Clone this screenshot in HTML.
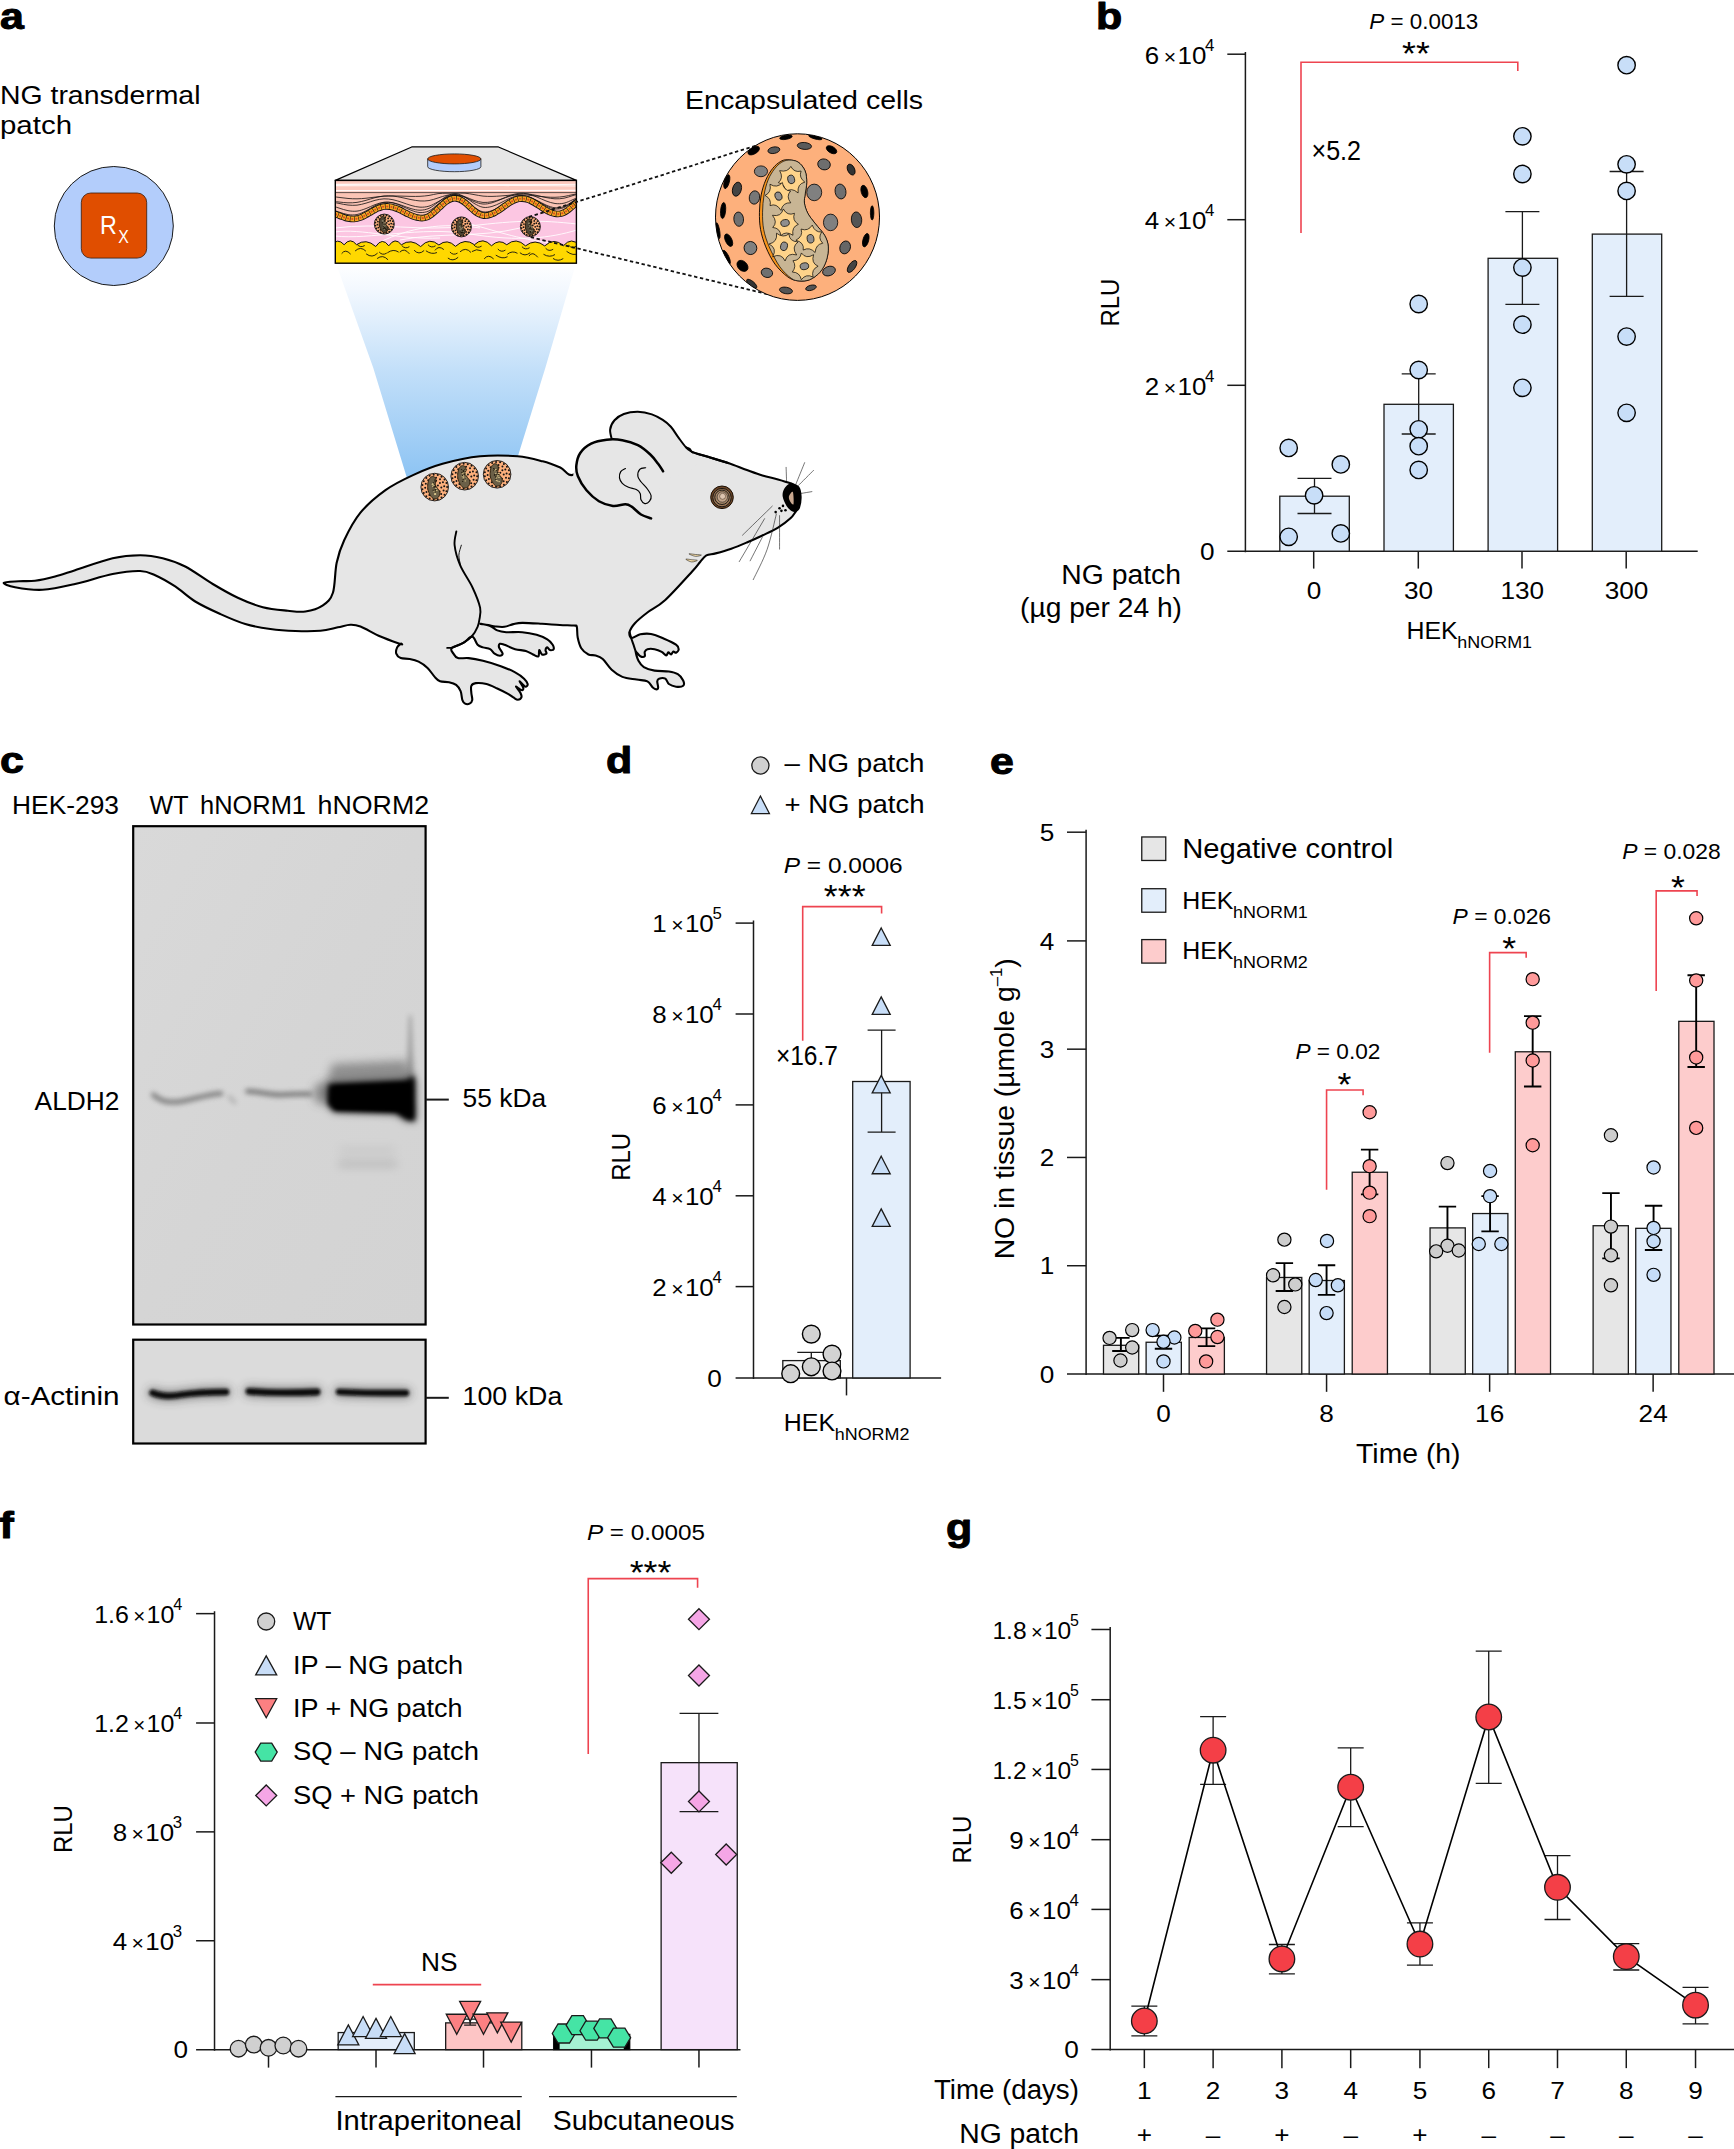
<!DOCTYPE html>
<html lang="en">
<head>
<meta charset="utf-8">
<title>Figure</title>
<style>
html,body{margin:0;padding:0;background:#fff;}
body{width:1734px;height:2149px;overflow:hidden;}
svg{display:block;font-family:"Liberation Sans",sans-serif;fill:#000;}
</style>
</head>
<body>
<svg width="1734" height="2149" viewBox="0 0 1734 2149">
<defs>
<linearGradient id="beam" x1="0" y1="263" x2="0" y2="480" gradientUnits="userSpaceOnUse"><stop offset="0" stop-color="#ffffff"/><stop offset="0.12" stop-color="#f3f8fe"/><stop offset="0.5" stop-color="#c2dff9"/><stop offset="1" stop-color="#8cc3f3"/></linearGradient>
<clipPath id="skinclip"><rect x="335.3" y="180.4" width="241.1" height="82.8"/></clipPath>
<clipPath id="sphclip"><ellipse cx="0" cy="0" rx="82" ry="83.3"/></clipPath>
<g id="capsule">
<ellipse cx="0" cy="0" rx="82" ry="83.3" fill="#fdb07c"/>
<g clip-path="url(#sphclip)" stroke="#000" stroke-width="0.8">
<ellipse cx="-11.53" cy="-79.82" rx="6.34" ry="2.08" fill="#000" transform="rotate(-10 -11.53 -79.82)"/>
<ellipse cx="17.88" cy="-79.82" rx="6.92" ry="1.73" fill="#000" transform="rotate(15 17.88 -79.82)"/>
<ellipse cx="-43.83" cy="-66.55" rx="6.34" ry="3.46" fill="#000" transform="rotate(-30 -43.83 -66.55)"/>
<ellipse cx="-23.64" cy="-66.9" rx="6" ry="3.23" fill="#5a5a5a" transform="rotate(-10 -23.64 -66.9)"/>
<ellipse cx="6.92" cy="-71.16" rx="7.15" ry="3.46" fill="#5a5a5a" transform="rotate(5 6.92 -71.16)"/>
<ellipse cx="34.03" cy="-67.36" rx="5.77" ry="3.23" fill="#000" transform="rotate(30 34.03 -67.36)"/>
<ellipse cx="53.63" cy="-47.52" rx="3.46" ry="5.77" fill="#333" transform="rotate(-25 53.63 -47.52)"/>
<ellipse cx="26.53" cy="-52.71" rx="6.34" ry="5.42" fill="#6e6e6e" transform="rotate(15 26.53 -52.71)"/>
<ellipse cx="-36.56" cy="-45.79" rx="6.57" ry="5.42" fill="#808080" transform="rotate(0 -36.56 -45.79)"/>
<ellipse cx="-70.7" cy="-35.41" rx="2.54" ry="7.15" fill="#000" transform="rotate(15 -70.7 -35.41)"/>
<ellipse cx="-60.55" cy="-27.91" rx="4.38" ry="7.15" fill="#444" transform="rotate(15 -60.55 -27.91)"/>
<ellipse cx="-43.02" cy="-19.61" rx="5.19" ry="6.69" fill="#777" transform="rotate(10 -43.02 -19.61)"/>
<ellipse cx="16.72" cy="-24.68" rx="7.5" ry="8.3" fill="#808080" transform="rotate(0 16.72 -24.68)"/>
<ellipse cx="43.02" cy="-25.61" rx="5.42" ry="7.5" fill="#707070" transform="rotate(-10 43.02 -25.61)"/>
<ellipse cx="66.9" cy="-25.61" rx="3.23" ry="6.34" fill="#000" transform="rotate(-15 66.9 -25.61)"/>
<ellipse cx="-74.39" cy="-6.57" rx="2.54" ry="8.07" fill="#000" transform="rotate(5 -74.39 -6.57)"/>
<ellipse cx="-58.82" cy="2.08" rx="4.84" ry="7.15" fill="#707070" transform="rotate(-5 -58.82 2.08)"/>
<ellipse cx="33.1" cy="5.31" rx="7.15" ry="8.3" fill="#808080" transform="rotate(0 33.1 5.31)"/>
<ellipse cx="59.05" cy="2.65" rx="5.19" ry="7.84" fill="#555" transform="rotate(-5 59.05 2.65)"/>
<ellipse cx="74.63" cy="-4.27" rx="1.73" ry="7.15" fill="#000" transform="rotate(0 74.63 -4.27)"/>
<ellipse cx="-79.58" cy="13.61" rx="1.73" ry="8.07" fill="#000" transform="rotate(-10 -79.58 13.61)"/>
<ellipse cx="-68.86" cy="23.07" rx="3.23" ry="6.69" fill="#000" transform="rotate(-25 -68.86 23.07)"/>
<ellipse cx="-47.06" cy="30.91" rx="6.34" ry="6.57" fill="#808080" transform="rotate(-20 -47.06 30.91)"/>
<ellipse cx="47.64" cy="30.33" rx="5.19" ry="6.57" fill="#666" transform="rotate(20 47.64 30.33)"/>
<ellipse cx="68.28" cy="23.07" rx="2.88" ry="6.92" fill="#000" transform="rotate(15 68.28 23.07)"/>
<ellipse cx="-70.93" cy="40.14" rx="2.31" ry="7.5" fill="#000" transform="rotate(-25 -70.93 40.14)"/>
<ellipse cx="-55.02" cy="48.79" rx="4.61" ry="6.34" fill="#000" transform="rotate(-45 -55.02 48.79)"/>
<ellipse cx="-30.57" cy="55.71" rx="5.77" ry="4.61" fill="#707070" transform="rotate(15 -30.57 55.71)"/>
<ellipse cx="31.49" cy="53.98" rx="6.57" ry="4.61" fill="#707070" transform="rotate(-20 31.49 53.98)"/>
<ellipse cx="54.56" cy="49.37" rx="3.23" ry="6.92" fill="#444" transform="rotate(35 54.56 49.37)"/>
<ellipse cx="-45.79" cy="66.67" rx="6.34" ry="2.54" fill="#333" transform="rotate(40 -45.79 66.67)"/>
<ellipse cx="-11.53" cy="73.36" rx="6.57" ry="3.23" fill="#555" transform="rotate(10 -11.53 73.36)"/>
<ellipse cx="13.49" cy="70.7" rx="5.42" ry="2.54" fill="#555" transform="rotate(-15 13.49 70.7)"/>
</g>
<ellipse cx="0" cy="0" rx="82" ry="83.3" fill="none" stroke="#000" stroke-width="1"/>
<path d="M-10.38 -57.32C-7.4 -57.27 -2.4 -56.84 0.58 -55.02C3.56 -53.19 6.06 -49.73 7.5 -46.37C8.94 -43 9.19 -38.68 9.23 -34.83C9.27 -30.99 8.11 -26.76 7.73 -23.3C7.34 -19.84 6.48 -17.34 6.92 -14.07C7.36 -10.8 8.55 -7.15 10.38 -3.69C12.21 -0.23 15.09 3.04 17.88 6.69C20.67 10.34 24.95 14.38 27.1 18.22C29.26 22.07 30.51 25.53 30.8 29.76C31.08 33.99 30.22 39.37 28.84 43.6C27.45 47.83 25.28 51.96 22.49 55.13C19.7 58.3 15.76 61.19 12.11 62.63C8.46 64.07 4.23 64.26 0.58 63.78C-3.08 63.3 -5.96 62.53 -9.8 59.75C-13.65 56.96 -18.84 52.06 -22.49 47.06C-26.14 42.06 -29.32 35.52 -31.72 29.76C-34.12 23.99 -35.85 18.22 -36.91 12.46C-37.97 6.69 -38.16 0.92 -38.06 -4.84C-37.97 -10.61 -37.39 -16.76 -36.33 -22.15C-35.27 -27.53 -33.64 -32.72 -31.72 -37.14C-29.8 -41.56 -27.2 -45.64 -24.8 -48.67C-22.4 -51.71 -19.7 -53.92 -17.3 -55.36C-14.9 -56.81 -13.36 -57.38 -10.38 -57.32Z" fill="#f7941d" stroke="#000" stroke-width="0.9"/>
<path d="M-8.65 -56.98C-5.86 -57.04 -2.11 -56.79 0.58 -55.02C3.27 -53.25 6.06 -49.73 7.5 -46.37C8.94 -43 9.19 -38.68 9.23 -34.83C9.27 -30.99 8.11 -26.76 7.73 -23.3C7.34 -19.84 6.48 -17.34 6.92 -14.07C7.36 -10.8 8.55 -7.15 10.38 -3.69C12.21 -0.23 15.09 3.04 17.88 6.69C20.67 10.34 24.95 14.38 27.1 18.22C29.26 22.07 30.51 25.53 30.8 29.76C31.08 33.99 30.22 39.37 28.84 43.6C27.45 47.83 25.28 51.96 22.49 55.13C19.7 58.3 15.57 61.19 12.11 62.63C8.65 64.07 4.81 64.03 1.73 63.78C-1.35 63.53 -3.08 63.53 -6.34 61.13C-9.61 58.73 -14.23 54.59 -17.88 49.37C-21.53 44.14 -25.61 35.91 -28.26 29.76C-30.91 23.61 -32.68 18.22 -33.79 12.46C-34.91 6.69 -35.01 0.92 -34.95 -4.84C-34.89 -10.61 -34.37 -16.76 -33.45 -22.15C-32.53 -27.53 -31.14 -32.81 -29.41 -37.14C-27.68 -41.46 -25.28 -45.17 -23.07 -48.1C-20.86 -51.02 -18.55 -53.19 -16.15 -54.67C-13.74 -56.15 -11.44 -56.92 -8.65 -56.98Z" fill="#c8b594" stroke="#000" stroke-width="0.7"/>
<path d="M7.32 -34.95Q-0.44 -33.24 0.6 -24.14Q-6.17 -30.41 -12.15 -24.87Q-12.04 -32.94 -19.14 -34.46Q-13.56 -39.18 -17.85 -46.44Q-9.83 -44.53 -6.66 -50.67Q-3.4 -44.23 3.58 -46.03Q1.09 -39.6 7.32 -34.95Z" fill="#fed38a" stroke="#000" stroke-width="0.7" stroke-linejoin="round"/>
<ellipse cx="-6.34" cy="-37.72" rx="3.4" ry="4.3" fill="#8e8e8e" stroke="#000" stroke-width="0.7" transform="rotate(-15 -6.34 -37.72)"/>
<path d="M-6.74 -14.28Q-14.65 -14.89 -16.53 -6.67Q-20.93 -14.28 -27.46 -11.46Q-25.69 -18.2 -32.47 -21.68Q-25.76 -24.67 -27.54 -32.86Q-20.32 -28.33 -15.16 -34.69Q-14.05 -26.62 -6.96 -26.06Q-11.75 -20.62 -6.74 -14.28Z" fill="#fed38a" stroke="#000" stroke-width="0.7" stroke-linejoin="round"/>
<ellipse cx="-19.03" cy="-20.99" rx="3.4" ry="4.3" fill="#8e8e8e" stroke="#000" stroke-width="0.7" transform="rotate(-20 -19.03 -20.99)"/>
<path d="M0.89 7.22Q-6.02 9.82 -4.55 18.14Q-11.5 13.53 -16.67 18.4Q-17.39 10.94 -24.77 10.36Q-19.49 5.18 -25.02 -1.8Q-16.23 0.03 -14.21 -8.17Q-10.21 -0.8 -3.02 -3.79Q-5.62 3.4 0.89 7.22Z" fill="#fed38a" stroke="#000" stroke-width="0.7" stroke-linejoin="round"/>
<ellipse cx="-12.46" cy="5.88" rx="3.4" ry="4.3" fill="#8e8e8e" stroke="#000" stroke-width="0.7" transform="rotate(80 -12.46 5.88)"/>
<path d="M25.24 26.14Q18.31 27.1 17.64 35.43Q12.06 29.43 5.73 32.97Q6.98 25.38 -1.62 23.14Q5.98 19.11 3.59 11.99Q10.64 14.54 14.76 8Q17.18 15.27 24.15 14.9Q20.06 20.99 25.24 26.14Z" fill="#fed38a" stroke="#000" stroke-width="0.7" stroke-linejoin="round"/>
<ellipse cx="13.03" cy="21.68" rx="3.4" ry="4.3" fill="#8e8e8e" stroke="#000" stroke-width="0.7" transform="rotate(-10 13.03 21.68)"/>
<path d="M-0.82 37.85Q-10.08 35.11 -12.42 43.87Q-16.06 35.69 -24.81 39.65Q-20.04 31.19 -28.45 26.9Q-19.71 24.93 -21.01 16.12Q-14.07 21.34 -8.59 16.75Q-8.22 24.31 0.51 24.89Q-6.45 30.25 -0.82 37.85Z" fill="#fed38a" stroke="#000" stroke-width="0.7" stroke-linejoin="round"/>
<ellipse cx="-13.49" cy="29.18" rx="3.4" ry="4.3" fill="#8e8e8e" stroke="#000" stroke-width="0.7" transform="rotate(15 -13.49 29.18)"/>
<path d="M20.61 49.13Q13.52 52.31 15.55 59.96Q8.54 56.25 3.84 62.61Q2.24 55.01 -5.16 54.95Q-0.57 49.13 -4.54 43.61Q2.47 43.55 3.89 35.86Q8.47 42.33 16.12 37.6Q13.36 46.03 20.61 49.13Z" fill="#fed38a" stroke="#000" stroke-width="0.7" stroke-linejoin="round"/>
<ellipse cx="6.92" cy="49.13" rx="3.4" ry="4.3" fill="#8e8e8e" stroke="#000" stroke-width="0.7" transform="rotate(80 6.92 49.13)"/>
</g>
<filter id="bl1" filterUnits="userSpaceOnUse" x="120" y="800" width="330" height="660"><feGaussianBlur stdDeviation="1.6"/></filter>
<filter id="bl2" filterUnits="userSpaceOnUse" x="120" y="800" width="330" height="660"><feGaussianBlur stdDeviation="2.6"/></filter>
<filter id="bl4" filterUnits="userSpaceOnUse" x="120" y="800" width="330" height="660"><feGaussianBlur stdDeviation="5"/></filter>
<linearGradient id="blotg" x1="0" y1="0" x2="1" y2="1"><stop offset="0" stop-color="#d9d9d9"/><stop offset="0.5" stop-color="#d5d5d5"/><stop offset="1" stop-color="#d3d3d3"/></linearGradient>
<clipPath id="clipc1"><rect x="133.2" y="826.2" width="292.4" height="498.3"/></clipPath>
<clipPath id="clipc2"><rect x="133.2" y="1339.7" width="292.4" height="103.8"/></clipPath>
</defs>
<g id="panel-a">
<text transform="translate(0 29.3) scale(1.16 1)" font-size="37" font-weight="bold" fill="#000" stroke="#000" stroke-width="1" stroke-linejoin="round">a</text>
<text font-size="26.5" textLength="190.95" lengthAdjust="spacingAndGlyphs" transform="translate(0 104) scale(1.05 1)">NG transdermal</text>
<text font-size="26.5" textLength="68.57" lengthAdjust="spacingAndGlyphs" transform="translate(0 134.4) scale(1.05 1)">patch</text>
<text font-size="26.5" textLength="226.67" lengthAdjust="spacingAndGlyphs" transform="translate(685 109) scale(1.05 1)">Encapsulated cells</text>
<circle cx="113.8" cy="226" r="59.5" fill="#b3cdfb" stroke="#1a1a1a" stroke-width="1"/>
<rect x="81.3" y="193" width="65.4" height="65.1" rx="9.5" fill="#e04e00" stroke="#3a1a0a" stroke-width="0.8"/>
<text font-size="26.5" fill="#fff" transform="translate(100 233.6) scale(0.88 1)">R<tspan dy="9.2" dx="1.5" font-size="18">X</tspan></text>
<polygon points="336,263.5 576,263.5 545.3,368 513,472 410,488 373.3,368" fill="url(#beam)"/>
<path d="M3.75 582.73C4.38 581.73 13.56 581.56 18.77 581.23C23.99 580.89 28.99 581.52 35.04 580.73C41.09 579.93 48.39 578.22 55.07 576.47C61.74 574.72 65.5 573.26 75.09 570.21C84.69 567.17 101.79 560.7 112.64 558.2C123.49 555.69 131.83 555.19 140.18 555.19C148.52 555.19 155.19 556.32 162.7 558.2C170.21 560.08 176.89 562.16 185.23 566.46C193.58 570.76 204.01 578.77 212.77 583.98C221.53 589.19 229.45 593.87 237.8 597.75C246.14 601.63 254.48 605.09 262.83 607.26C271.17 609.43 280.77 610.05 287.86 610.76C294.95 611.47 299.54 612.43 305.38 611.51C311.22 610.6 318.31 608.39 322.9 605.26C327.49 602.13 330.62 599.83 332.92 592.74C335.21 585.65 334.79 571.46 336.67 562.7C338.55 553.94 340.22 548.52 344.18 540.18C348.14 531.83 353.57 520.98 360.45 512.64C367.33 504.3 376.72 496.37 385.48 490.11C394.24 483.85 403.5 479.47 413.02 475.09C422.53 470.71 431.39 466.96 442.58 463.83C453.76 460.7 467.61 457.57 480.13 456.32C492.64 455.07 507.24 455.49 517.67 456.32C528.1 457.15 535.61 459.45 542.7 461.33C549.8 463.2 555.01 465.37 560.23 467.58C565.44 469.8 567.36 477.19 573.99 474.59C580.62 472 587.33 457.77 600 452C612.67 446.23 635.65 440.75 650 440C664.35 439.25 679.07 445.47 686.13 447.49C693.19 449.52 688.72 450.61 692.36 452.16C695.99 453.72 701.96 455.02 707.93 456.84C713.9 458.65 721.68 460.86 728.17 463.06C734.66 465.27 741.15 468 746.86 470.07C752.57 472.15 757.24 473.96 762.43 475.52C767.62 477.08 773.33 478.12 778 479.41C782.67 480.71 787.08 482.01 790.46 483.31C793.83 484.61 796.56 484.99 798.24 487.2C799.93 489.41 800.45 493.17 800.58 496.54C800.71 499.92 799.8 504.98 799.02 507.44C798.24 509.91 797.34 509.52 795.91 511.34C794.48 513.15 793.44 515.62 790.46 518.34C787.47 521.07 782.67 524.83 778 527.69C773.33 530.54 767.62 533.01 762.43 535.47C757.24 537.94 752.05 540.27 746.86 542.48C741.67 544.68 736.48 546.89 731.29 548.71C726.1 550.52 719.87 552.26 715.71 553.38C711.56 554.49 708.97 553.98 706.37 555.4C703.78 556.83 702.48 559.3 700.14 561.94C697.81 564.59 698.17 564.94 692.36 571.29C686.55 577.63 672.78 593.13 665.29 600C657.81 606.87 652.48 608.64 647.42 612.51C642.35 616.39 637.88 619.96 634.91 623.24C631.93 626.52 630.08 629.73 629.54 632.18C629.01 634.62 629.9 637.54 631.69 637.9C633.48 638.26 637.05 634.98 640.27 634.32C643.49 633.67 647.12 633.28 650.99 633.96C654.87 634.65 659.34 636.65 663.51 638.43C667.68 640.22 673.49 642.9 676.02 644.69C678.55 646.48 678.7 647.82 678.7 649.16C678.7 650.5 676.91 652.35 676.02 652.74C675.13 653.12 674.17 651.19 673.34 651.48C672.51 651.78 671.85 654.37 671.02 654.52C670.18 654.67 669.14 652.23 668.33 652.38C667.53 652.53 667.29 655.51 666.19 655.42C665.09 655.33 663.66 652.88 661.72 651.84C659.78 650.8 656.95 649.61 654.57 649.16C652.19 648.71 649.06 648.71 647.42 649.16C645.78 649.61 645.18 650.65 644.74 651.84C644.29 653.03 645.48 655.57 644.74 656.31C643.99 657.06 641.76 657.06 640.27 656.31C638.78 655.57 636.1 651.1 635.8 651.84C635.5 652.59 637.14 658.25 638.48 660.78C639.82 663.31 641.16 665.4 643.84 667.04C646.52 668.67 650.4 669.87 654.57 670.61C658.74 671.36 665 670.91 668.87 671.51C672.74 672.1 675.42 672.7 677.81 674.19C680.19 675.68 682.28 678.51 683.17 680.44C684.07 682.38 684.36 684.76 683.17 685.81C681.98 686.85 678.4 687 676.02 686.7C673.64 686.4 670.66 685.36 668.87 684.02C667.08 682.68 666.93 679.55 665.29 678.66C663.66 677.76 660.38 678.21 659.04 678.66C657.7 679.1 657.4 679.85 657.25 681.34C657.1 682.83 658.29 686.25 658.14 687.59C658 688.93 657.25 689.38 656.36 689.38C655.46 689.38 654.27 688.93 652.78 687.59C651.29 686.25 650.1 682.68 647.42 681.34C644.74 680 640.86 680.29 636.69 679.55C632.52 678.8 626.56 678.51 622.39 676.87C618.22 675.23 614.94 672.7 611.67 669.72C608.39 666.74 605.41 661.38 602.73 658.99C600.05 656.61 597.96 656.16 595.58 655.42C593.19 654.67 590.81 655.71 588.43 654.52C586.04 653.33 583.06 651.1 581.28 648.27C579.49 645.44 578.45 641.12 577.7 637.54C576.96 633.96 577.4 628.81 576.81 626.81C576.21 624.82 576.96 625.86 574.13 625.56C571.3 625.27 565.19 625.32 559.82 625.03C554.46 624.73 548.21 624.13 541.95 623.78C535.69 623.42 527.05 622.82 522.28 622.88C517.52 622.94 516.33 623.48 513.35 624.13C510.37 624.79 507.39 626.43 504.41 626.81C501.43 627.2 498.15 626.75 495.47 626.46C492.79 626.16 490.85 625.47 488.32 625.03C485.79 624.58 479.98 623.63 480.28 623.78C480.57 623.92 487.28 624.82 490.11 625.92C492.94 627.02 494.58 629.35 497.26 630.39C499.94 631.43 502.02 631.88 506.2 632.18C510.37 632.48 517.22 631.73 522.28 632.18C527.35 632.62 532.41 633.67 536.59 634.86C540.76 636.05 544.63 637.69 547.31 639.33C549.99 640.97 551.63 643.05 552.67 644.69C553.72 646.33 554.02 648.27 553.57 649.16C553.12 650.05 551.04 650.35 549.99 650.05C548.95 649.76 548.06 647.37 547.31 647.37C546.57 647.37 545.67 649.01 545.52 650.05C545.37 651.1 547.01 652.88 546.42 653.63C545.82 654.37 543.14 655.12 541.95 654.52C540.76 653.93 539.86 649.76 539.27 650.05C538.67 650.35 539.42 655.57 538.37 656.31C537.33 657.06 535.1 655.42 533.01 654.52C530.92 653.63 528.84 651.84 525.86 650.95C522.88 650.05 518.71 650.2 515.13 649.16C511.56 648.12 506.94 645.58 504.41 644.69C501.88 643.8 500.83 643.35 499.94 643.8C499.05 644.24 498.6 645.73 499.05 647.37C499.49 649.01 502.47 652.23 502.62 653.63C502.77 655.03 501.28 655.77 499.94 655.77C498.6 655.77 496.21 654.73 494.58 653.63C492.94 652.53 492.04 650.2 490.11 649.16C488.17 648.12 485.04 648.12 482.96 647.37C480.87 646.63 479.38 646.48 477.59 644.69C475.81 642.9 474.61 636.94 472.23 636.65C469.85 636.35 466.72 640.97 463.29 642.9C459.87 644.84 453.31 646.48 451.67 648.27C450.03 650.05 452.42 651.99 453.46 653.63C454.5 655.27 455.4 657.35 457.93 658.1C460.46 658.84 464.48 657.65 468.66 658.1C472.83 658.54 477.59 659.44 482.96 660.78C488.32 662.12 495.47 664.21 500.83 666.14C506.2 668.08 511.26 670.31 515.13 672.4C519.01 674.48 521.99 676.72 524.07 678.66C526.16 680.59 527.35 682.68 527.65 684.02C527.95 685.36 526.6 686.55 525.86 686.7C525.12 686.85 524.22 685.81 523.18 684.91C522.14 684.02 519.6 680.89 519.6 681.34C519.6 681.78 522.73 686.1 523.18 687.59C523.63 689.08 523.03 690.13 522.28 690.28C521.54 690.42 519.75 689.08 518.71 688.49C517.67 687.89 515.73 685.96 516.03 686.7C516.33 687.44 519.6 691.17 520.5 692.96C521.39 694.74 521.84 696.29 521.39 697.43C520.94 698.56 519.16 699.75 517.82 699.75C516.47 699.75 514.99 698.41 513.35 697.43C511.71 696.44 510.66 695.34 507.98 693.85C505.3 692.36 500.83 690.13 497.26 688.49C493.68 686.85 490.11 684.91 486.53 684.02C482.96 683.12 478.34 682.83 475.81 683.12C473.27 683.42 472.08 684.17 471.34 685.81C470.59 687.44 471.19 690.57 471.34 692.96C471.49 695.34 472.53 698.32 472.23 700.11C471.93 701.89 470.74 703.09 469.55 703.68C468.36 704.28 466.27 704.28 465.08 703.68C463.89 703.09 463.14 702.19 462.4 700.11C461.65 698.02 461.65 693.7 460.61 691.17C459.57 688.64 458.08 686.4 456.14 684.91C454.21 683.42 451.67 682.83 448.99 682.23C446.31 681.64 442.44 682.23 440.05 681.34C437.67 680.44 436.78 679.1 434.69 676.87C432.61 674.63 430.22 670.46 427.54 667.93C424.86 665.4 421.58 663.16 418.6 661.67C415.62 660.18 412.64 659.59 409.66 658.99C406.68 658.4 402.96 658.99 400.73 658.1C398.49 657.2 396.85 655.42 396.26 653.63C395.66 651.84 396.41 649.01 397.15 647.37C397.9 645.73 400.17 644.35 400.73 643.8C401.28 643.24 403.88 645.26 400.5 644.06C397.13 642.85 387.15 639.47 380.48 636.55C373.8 633.63 365.46 628.49 360.45 626.53C355.44 624.57 354.19 624.66 350.44 624.78C346.68 624.91 342.93 626.28 337.92 627.28C332.92 628.29 327.49 630.16 320.4 630.79C313.31 631.41 303.71 631.33 295.37 631.04C287.03 630.75 278.68 630.2 270.34 629.04C261.99 627.87 253.65 626.53 245.31 624.03C236.96 621.53 228.62 617.77 220.28 614.02C211.93 610.26 202.75 606.09 195.24 601.5C187.73 596.91 181.89 590.86 175.22 586.48C168.54 582.1 161.03 577.81 155.19 575.22C149.35 572.63 147.27 571.17 140.18 570.96C133.08 570.76 123.49 571.8 112.64 573.97C101.79 576.14 86.78 581.35 75.09 583.98C63.41 586.61 52.57 589.19 42.55 589.74C32.54 590.28 21.49 588.4 15.02 587.23C8.55 586.07 3.13 583.73 3.75 582.73Z" fill="#e6e6e6" stroke="#000" stroke-width="2.1" stroke-linejoin="round"/>
<path d="M612.16 440.8C611.7 437.94 609.75 433.01 610.14 429.59C610.53 426.16 612.22 422.84 614.5 420.24C616.78 417.65 619.95 415.42 623.84 414.01C627.74 412.61 633.19 411.78 637.86 411.83C642.53 411.89 647.72 412.98 651.87 414.33C656.02 415.68 659.61 417.86 662.77 419.93C665.94 422.01 668.27 423.88 670.87 426.78C673.46 429.69 675.8 433.92 678.34 437.37C680.89 440.82 683.79 445.03 686.13 447.49C688.46 449.96 690.02 450.22 692.36 452.16C694.69 454.11 701.44 455.67 700.14 459.17C698.85 462.68 692.36 470.07 684.57 473.19C676.79 476.3 663.81 479.15 653.43 477.86C643.05 476.56 629.03 470.59 622.29 465.4C615.54 460.21 614.63 450.81 612.94 446.71C611.26 442.61 612.63 443.65 612.16 440.8Z" fill="#e6e6e6" stroke="none"/>
<path d="M612.16 440.8C611.83 438.93 609.75 433.01 610.14 429.59C610.53 426.16 612.22 422.84 614.5 420.24C616.78 417.65 619.95 415.42 623.84 414.01C627.74 412.61 633.19 411.78 637.86 411.83C642.53 411.89 647.72 412.98 651.87 414.33C656.02 415.68 659.61 417.86 662.77 419.93C665.94 422.01 668.27 423.88 670.87 426.78C673.46 429.69 675.8 433.92 678.34 437.37C680.89 440.82 683.79 445.03 686.13 447.49C688.46 449.96 691.32 451.39 692.36 452.16" fill="none" stroke="#000" stroke-width="2" stroke-linecap="round"/>
<path d="M692.36 452.16C694.95 452.94 701.96 455.02 707.93 456.84C713.9 458.65 724.8 462.03 728.17 463.06" fill="none" stroke="#000" stroke-width="2.1" stroke-linecap="round"/>
<path d="M573.24 475.99C572.98 473.39 575.18 469.24 576.35 465.4C577.52 461.56 577.78 456.58 580.24 452.94C582.71 449.31 586.73 445.81 591.14 443.6C595.55 441.39 601.52 440.28 606.71 439.71C611.9 439.14 617.1 439.27 622.29 440.17C627.48 441.08 633.19 442.77 637.86 445.16C642.53 447.54 646.94 451.39 650.31 454.5C653.69 457.61 656.15 461.38 658.1 463.84C660.05 466.31 661.73 465.4 661.99 469.29C662.25 473.19 662.12 480.58 659.66 487.2C657.19 493.82 652.91 506.15 647.2 509C641.49 511.86 631.11 504.85 625.4 504.33C619.69 503.81 617.35 506.41 612.94 505.89C608.53 505.37 603.34 503.81 598.93 501.21C594.52 498.62 589.98 493.69 586.47 490.31C582.97 486.94 580.11 483.36 577.91 480.97C575.7 478.58 573.5 478.58 573.24 475.99Z" fill="#e6e6e6" stroke="none"/>
<path d="M651.09 518.34C649.41 517.69 644.22 516.4 640.97 514.45C637.73 512.5 634.22 508.35 631.63 506.66C629.03 504.98 628.51 504.46 625.4 504.33C622.29 504.2 617.35 506.41 612.94 505.89C608.53 505.37 603.34 503.81 598.93 501.21C594.52 498.62 589.98 494.47 586.47 490.31C582.97 486.16 579.59 480.45 577.91 476.3C576.22 472.15 575.96 469.29 576.35 465.4C576.74 461.51 577.78 456.58 580.24 452.94C582.71 449.31 586.73 445.81 591.14 443.6C595.55 441.39 601.52 440.28 606.71 439.71C611.9 439.14 617.1 439.27 622.29 440.17C627.48 441.08 633.19 442.77 637.86 445.16C642.53 447.54 646.94 451.39 650.31 454.5C653.69 457.61 655.97 461.04 658.1 463.84C660.23 466.65 662.25 470.07 663.08 471.32" fill="none" stroke="#000" stroke-width="2.5" stroke-linecap="round"/>
<path d="M625.4 468.51C624.62 469.03 621.71 470.07 620.73 471.63C619.74 473.19 619.22 475.91 619.48 477.86C619.74 479.8 620.78 481.75 622.29 483.31C623.79 484.86 626.18 486.16 628.51 487.2C630.85 488.24 634.35 488.5 636.3 489.54C638.25 490.57 639.41 491.74 640.19 493.43C640.97 495.12 640.19 497.97 640.97 499.66C641.75 501.34 643.44 503.29 644.86 503.55C646.29 503.81 648.5 502.51 649.54 501.21C650.57 499.92 651.48 497.84 651.09 495.76C650.7 493.69 648.89 491.09 647.2 488.76C645.51 486.42 642.53 483.83 640.97 481.75C639.41 479.67 638.06 478.38 637.86 476.3C637.65 474.22 638.43 470.72 639.73 469.29C641.02 467.87 644.66 468 645.64 467.74" fill="none" stroke="#000" stroke-width="1.2" stroke-linecap="round"/>
<path d="M456.35 531.41C456.05 533.71 453.97 539.55 454.59 545.18C455.22 550.81 457.1 558.11 460.1 565.21C463.1 572.3 469.28 580.64 472.62 587.73C475.95 594.83 479 602.44 480.13 607.76C481.25 613.08 479.8 616.49 479.38 619.66C478.96 622.84 478.79 624.13 477.59 626.81C476.4 629.5 474.61 633.07 472.23 635.75C469.85 638.43 466.57 640.97 463.29 642.9C460.02 644.84 455.25 646.54 452.57 647.37C449.89 648.21 448.1 647.82 447.2 647.91" fill="none" stroke="#000" stroke-width="1.9" stroke-linecap="round"/>
<path d="M461.35 545.18C460.93 546.85 458.97 551.86 458.85 555.19C458.72 558.53 460.31 563.54 460.6 565.21" fill="none" stroke="#000" stroke-width="0.9" stroke-linecap="round"/>
<path d="M629.54 632.18C629.84 633.22 630.67 636.35 631.33 638.43C631.99 640.52 632.73 642.46 633.48 644.69C634.22 646.93 635.41 650.65 635.8 651.84" fill="none" stroke="#000" stroke-width="2" stroke-linecap="round"/>
<path d="M688.93 553.85C688.93 553.53 693.4 554.26 695.47 554.47C697.55 554.68 701.39 554.78 701.39 555.09C701.39 555.4 697.55 556.55 695.47 556.34C693.4 556.13 688.93 554.16 688.93 553.85Z" fill="#f5dda8" stroke="#000" stroke-width="0.5"/>
<path d="M685.82 559.14C685.95 558.78 690.44 559.56 692.36 559.76C694.28 559.97 697.47 560.02 697.34 560.39C697.21 560.75 693.5 562.15 691.58 561.94C689.66 561.74 685.69 559.5 685.82 559.14Z" fill="#f5dda8" stroke="#000" stroke-width="0.5"/>
<path d="M790.46 483.31C792.53 482.79 795 483.96 796.69 485.64C798.37 487.33 800.06 490.31 800.58 493.43C801.1 496.54 800.58 501.34 799.8 504.33C799.02 507.31 797.21 510.17 795.91 511.34C794.61 512.5 793.57 512.24 792.01 511.34C790.46 510.43 788.12 508.35 786.56 505.89C785.01 503.42 783.06 499.4 782.67 496.54C782.28 493.69 782.93 490.96 784.23 488.76C785.53 486.55 788.38 483.83 790.46 483.31Z" fill="#000"/>
<path d="M792.79 491.87C792.01 490.63 789.29 494.86 788.9 496.54C788.51 498.23 789.68 500.75 790.46 501.99C791.24 503.24 793.18 505.7 793.57 504.02C793.96 502.33 793.57 493.12 792.79 491.87Z" fill="#c9a890"/>
<circle cx="722" cy="497.3" r="11.3" fill="#6b4526" stroke="#1a0f05" stroke-width="1"/>
<circle cx="722" cy="497.6" r="9.2" fill="#9a7554" stroke="#111" stroke-width="0.9"/>
<circle cx="722" cy="497.3" r="7.2" fill="#a88868" stroke="#111" stroke-width="0.9"/>
<circle cx="722.3" cy="497.0" r="5.2" fill="#c4a68c" stroke="#1a1a1a" stroke-width="0.6"/>
<circle cx="722.6" cy="496.3" r="3" fill="#dcc4b0" stroke="#3a2a1a" stroke-width="0.5"/>
<circle cx="775.66" cy="512.11" r="1.3" fill="#000"/>
<circle cx="779.56" cy="508.22" r="1.3" fill="#000"/>
<circle cx="782.98" cy="505.89" r="1.3" fill="#000"/>
<circle cx="781.43" cy="510.87" r="1.3" fill="#000"/>
<circle cx="785.47" cy="510.25" r="1.3" fill="#000"/>
<path d="M786.56 480.97C786.49 478.64 786.18 469.29 786.1 466.96M795.91 484.09C797.39 480.45 803.3 465.92 804.78 462.29M798.24 485.64C800.84 483.05 811.22 472.67 813.82 470.07M801.05 493.43C802.91 493.12 810.39 491.87 812.26 491.56M772.55 505.89C767.49 510.82 747.25 530.54 742.19 535.47M764.76 518.34C760.48 525.61 743.35 554.68 739.07 561.94M776.44 513.67C774.89 519.64 770.99 538.43 767.1 549.49C763.21 560.54 755.42 574.92 753.09 580.01M779.56 515.23C779.56 520.94 779.56 543.78 779.56 549.49M762.43 537.03C760.35 541.05 752.05 557.14 749.97 561.16" fill="none" stroke="#1a1a1a" stroke-width="0.6"/>
<g transform="translate(434.7 487.1)">
<circle r="13.8" fill="#fdb07c" stroke="#111" stroke-width="0.9"/>
<circle cx="12.42" cy="0" r="1" fill="#151515"/>
<circle cx="11.75" cy="4.03" r="1" fill="#151515"/>
<circle cx="9.8" cy="7.63" r="1" fill="#151515"/>
<circle cx="6.79" cy="10.4" r="1" fill="#151515"/>
<circle cx="3.05" cy="12.04" r="1" fill="#151515"/>
<circle cx="-1.03" cy="12.38" r="1" fill="#151515"/>
<circle cx="-4.99" cy="11.37" r="1" fill="#151515"/>
<circle cx="-8.41" cy="9.14" r="1" fill="#151515"/>
<circle cx="-10.92" cy="5.91" r="1" fill="#151515"/>
<circle cx="-12.25" cy="2.04" r="1" fill="#151515"/>
<circle cx="-12.25" cy="-2.04" r="1" fill="#151515"/>
<circle cx="-10.92" cy="-5.91" r="1" fill="#151515"/>
<circle cx="-8.41" cy="-9.14" r="1" fill="#151515"/>
<circle cx="-4.99" cy="-11.37" r="1" fill="#151515"/>
<circle cx="-1.03" cy="-12.38" r="1" fill="#151515"/>
<circle cx="3.05" cy="-12.04" r="1" fill="#151515"/>
<circle cx="6.79" cy="-10.4" r="1" fill="#151515"/>
<circle cx="9.8" cy="-7.63" r="1" fill="#151515"/>
<circle cx="11.75" cy="-4.03" r="1" fill="#151515"/>
<circle cx="8.88" cy="3.44" r="1" fill="#151515"/>
<circle cx="6.5" cy="6.95" r="1" fill="#151515"/>
<circle cx="2.84" cy="9.09" r="1" fill="#151515"/>
<circle cx="-1.38" cy="9.42" r="1" fill="#151515"/>
<circle cx="-5.33" cy="7.89" r="1" fill="#151515"/>
<circle cx="-8.23" cy="4.79" r="1" fill="#151515"/>
<circle cx="-9.49" cy="0.75" r="1" fill="#151515"/>
<circle cx="-8.88" cy="-3.44" r="1" fill="#151515"/>
<circle cx="-6.5" cy="-6.95" r="1" fill="#151515"/>
<circle cx="-2.84" cy="-9.09" r="1" fill="#151515"/>
<circle cx="1.38" cy="-9.42" r="1" fill="#151515"/>
<circle cx="5.33" cy="-7.89" r="1" fill="#151515"/>
<circle cx="8.23" cy="-4.79" r="1" fill="#151515"/>
<circle cx="9.49" cy="-0.75" r="1" fill="#151515"/>
<circle cx="4.89" cy="4.47" r="1" fill="#151515"/>
<circle cx="0.88" cy="6.57" r="1" fill="#151515"/>
<circle cx="-3.55" cy="5.59" r="1" fill="#151515"/>
<circle cx="-6.31" cy="2" r="1" fill="#151515"/>
<circle cx="-6.12" cy="-2.52" r="1" fill="#151515"/>
<circle cx="-3.07" cy="-5.87" r="1" fill="#151515"/>
<circle cx="1.42" cy="-6.47" r="1" fill="#151515"/>
<circle cx="5.25" cy="-4.04" r="1" fill="#151515"/>
<circle cx="6.62" cy="0.28" r="1" fill="#151515"/>
<circle cx="1.6" cy="3.21" r="1" fill="#151515"/>
<circle cx="-3.21" cy="1.6" r="1" fill="#151515"/>
<circle cx="-1.6" cy="-3.21" r="1" fill="#151515"/>
<circle cx="3.21" cy="-1.6" r="1" fill="#151515"/>
<path d="M-2.15 -10.55C-1.64 -10.56 -0.94 -10.51 -0.45 -10.18C0.05 -9.86 0.57 -9.21 0.84 -8.58C1.1 -7.96 1.15 -7.16 1.16 -6.45C1.16 -5.74 0.95 -4.95 0.88 -4.31C0.81 -3.67 0.65 -3.21 0.73 -2.6C0.81 -2 1.03 -1.32 1.37 -0.68C1.71 -0.04 2.24 0.56 2.76 1.24C3.27 1.91 4.07 2.66 4.47 3.37C4.86 4.09 5.1 4.73 5.15 5.51C5.2 6.29 5.04 7.29 4.79 8.07C4.53 8.85 4.13 9.62 3.61 10.21C3.1 10.79 2.33 11.33 1.69 11.59C1.05 11.86 0.34 11.85 -0.23 11.81C-0.8 11.76 -1.12 11.76 -1.73 11.32C-2.33 10.87 -3.19 10.11 -3.86 9.14C-4.54 8.17 -5.29 6.65 -5.78 5.51C-6.27 4.37 -6.6 3.37 -6.81 2.31C-7.01 1.24 -7.03 0.17 -7.02 -0.9C-7.01 -1.96 -6.91 -3.1 -6.74 -4.1C-6.57 -5.1 -6.32 -6.07 -6 -6.88C-5.68 -7.68 -5.23 -8.36 -4.82 -8.9C-4.41 -9.44 -3.99 -9.85 -3.54 -10.12C-3.1 -10.39 -2.67 -10.54 -2.15 -10.55Z" fill="#6b6048" stroke="#2a1c08" stroke-width="0.9"/>
<rect x="-1.38" y="-2.37" width="1.5" height="1" fill="#d9c58a"/>
<rect x="0.55" y="4.41" width="1.5" height="1" fill="#d9c58a"/>
<rect x="-0.53" y="6.89" width="1.5" height="1" fill="#d9c58a"/>
<rect x="-0.13" y="5.79" width="1.5" height="1" fill="#d9c58a"/>
<rect x="0.56" y="0.97" width="1.5" height="1" fill="#d9c58a"/>
<rect x="-1.29" y="3.65" width="1.5" height="1" fill="#d9c58a"/>
<rect x="-0.58" y="5.58" width="1.5" height="1" fill="#d9c58a"/>
<rect x="-2" y="-2.8" width="1.5" height="1" fill="#d9c58a"/>
<rect x="-0.07" y="6.82" width="1.5" height="1" fill="#d9c58a"/>
<rect x="1.38" y="3" width="1.5" height="1" fill="#d9c58a"/>
<rect x="-2.67" y="-3.94" width="1.5" height="1" fill="#d9c58a"/>
<rect x="-3.07" y="-3.18" width="1.5" height="1" fill="#d9c58a"/>
<rect x="-2.69" y="-1.31" width="1.5" height="1" fill="#d9c58a"/>
<rect x="-1.32" y="-0.48" width="1.2" height="0.9" fill="#1c160a"/>
<rect x="-0.93" y="-0.63" width="1.2" height="0.9" fill="#1c160a"/>
<rect x="-0.66" y="-7.47" width="1.2" height="0.9" fill="#1c160a"/>
<rect x="-0.16" y="4.65" width="1.2" height="0.9" fill="#1c160a"/>
<rect x="-0.03" y="1.97" width="1.2" height="0.9" fill="#1c160a"/>
<rect x="-0.06" y="-1.74" width="1.2" height="0.9" fill="#1c160a"/>
<rect x="-0.26" y="-5.73" width="1.2" height="0.9" fill="#1c160a"/>
<rect x="-1.87" y="-4.73" width="1.2" height="0.9" fill="#1c160a"/>
<rect x="-0.19" y="3.31" width="1.2" height="0.9" fill="#1c160a"/>
<rect x="-2.08" y="2.67" width="1.2" height="0.9" fill="#1c160a"/>
<rect x="0.78" y="4.44" width="1.2" height="0.9" fill="#1c160a"/>
<rect x="0.21" y="-1.08" width="1.2" height="0.9" fill="#1c160a"/>
<rect x="-0.94" y="-3.3" width="1.2" height="0.9" fill="#1c160a"/>
</g>
<g transform="translate(464.7 476.2)">
<circle r="13.8" fill="#fdb07c" stroke="#111" stroke-width="0.9"/>
<circle cx="12.42" cy="0" r="1" fill="#151515"/>
<circle cx="11.75" cy="4.03" r="1" fill="#151515"/>
<circle cx="9.8" cy="7.63" r="1" fill="#151515"/>
<circle cx="6.79" cy="10.4" r="1" fill="#151515"/>
<circle cx="3.05" cy="12.04" r="1" fill="#151515"/>
<circle cx="-1.03" cy="12.38" r="1" fill="#151515"/>
<circle cx="-4.99" cy="11.37" r="1" fill="#151515"/>
<circle cx="-8.41" cy="9.14" r="1" fill="#151515"/>
<circle cx="-10.92" cy="5.91" r="1" fill="#151515"/>
<circle cx="-12.25" cy="2.04" r="1" fill="#151515"/>
<circle cx="-12.25" cy="-2.04" r="1" fill="#151515"/>
<circle cx="-10.92" cy="-5.91" r="1" fill="#151515"/>
<circle cx="-8.41" cy="-9.14" r="1" fill="#151515"/>
<circle cx="-4.99" cy="-11.37" r="1" fill="#151515"/>
<circle cx="-1.03" cy="-12.38" r="1" fill="#151515"/>
<circle cx="3.05" cy="-12.04" r="1" fill="#151515"/>
<circle cx="6.79" cy="-10.4" r="1" fill="#151515"/>
<circle cx="9.8" cy="-7.63" r="1" fill="#151515"/>
<circle cx="11.75" cy="-4.03" r="1" fill="#151515"/>
<circle cx="8.88" cy="3.44" r="1" fill="#151515"/>
<circle cx="6.5" cy="6.95" r="1" fill="#151515"/>
<circle cx="2.84" cy="9.09" r="1" fill="#151515"/>
<circle cx="-1.38" cy="9.42" r="1" fill="#151515"/>
<circle cx="-5.33" cy="7.89" r="1" fill="#151515"/>
<circle cx="-8.23" cy="4.79" r="1" fill="#151515"/>
<circle cx="-9.49" cy="0.75" r="1" fill="#151515"/>
<circle cx="-8.88" cy="-3.44" r="1" fill="#151515"/>
<circle cx="-6.5" cy="-6.95" r="1" fill="#151515"/>
<circle cx="-2.84" cy="-9.09" r="1" fill="#151515"/>
<circle cx="1.38" cy="-9.42" r="1" fill="#151515"/>
<circle cx="5.33" cy="-7.89" r="1" fill="#151515"/>
<circle cx="8.23" cy="-4.79" r="1" fill="#151515"/>
<circle cx="9.49" cy="-0.75" r="1" fill="#151515"/>
<circle cx="4.89" cy="4.47" r="1" fill="#151515"/>
<circle cx="0.88" cy="6.57" r="1" fill="#151515"/>
<circle cx="-3.55" cy="5.59" r="1" fill="#151515"/>
<circle cx="-6.31" cy="2" r="1" fill="#151515"/>
<circle cx="-6.12" cy="-2.52" r="1" fill="#151515"/>
<circle cx="-3.07" cy="-5.87" r="1" fill="#151515"/>
<circle cx="1.42" cy="-6.47" r="1" fill="#151515"/>
<circle cx="5.25" cy="-4.04" r="1" fill="#151515"/>
<circle cx="6.62" cy="0.28" r="1" fill="#151515"/>
<circle cx="1.6" cy="3.21" r="1" fill="#151515"/>
<circle cx="-3.21" cy="1.6" r="1" fill="#151515"/>
<circle cx="-1.6" cy="-3.21" r="1" fill="#151515"/>
<circle cx="3.21" cy="-1.6" r="1" fill="#151515"/>
<path d="M-2.15 -10.55C-1.64 -10.56 -0.94 -10.51 -0.45 -10.18C0.05 -9.86 0.57 -9.21 0.84 -8.58C1.1 -7.96 1.15 -7.16 1.16 -6.45C1.16 -5.74 0.95 -4.95 0.88 -4.31C0.81 -3.67 0.65 -3.21 0.73 -2.6C0.81 -2 1.03 -1.32 1.37 -0.68C1.71 -0.04 2.24 0.56 2.76 1.24C3.27 1.91 4.07 2.66 4.47 3.37C4.86 4.09 5.1 4.73 5.15 5.51C5.2 6.29 5.04 7.29 4.79 8.07C4.53 8.85 4.13 9.62 3.61 10.21C3.1 10.79 2.33 11.33 1.69 11.59C1.05 11.86 0.34 11.85 -0.23 11.81C-0.8 11.76 -1.12 11.76 -1.73 11.32C-2.33 10.87 -3.19 10.11 -3.86 9.14C-4.54 8.17 -5.29 6.65 -5.78 5.51C-6.27 4.37 -6.6 3.37 -6.81 2.31C-7.01 1.24 -7.03 0.17 -7.02 -0.9C-7.01 -1.96 -6.91 -3.1 -6.74 -4.1C-6.57 -5.1 -6.32 -6.07 -6 -6.88C-5.68 -7.68 -5.23 -8.36 -4.82 -8.9C-4.41 -9.44 -3.99 -9.85 -3.54 -10.12C-3.1 -10.39 -2.67 -10.54 -2.15 -10.55Z" fill="#6b6048" stroke="#2a1c08" stroke-width="0.9"/>
<rect x="-1.95" y="-0.87" width="1.5" height="1" fill="#d9c58a"/>
<rect x="0.73" y="2.01" width="1.5" height="1" fill="#d9c58a"/>
<rect x="-2.17" y="1.34" width="1.5" height="1" fill="#d9c58a"/>
<rect x="0.11" y="-3.78" width="1.5" height="1" fill="#d9c58a"/>
<rect x="-0.14" y="4.23" width="1.5" height="1" fill="#d9c58a"/>
<rect x="0.88" y="-2.12" width="1.5" height="1" fill="#d9c58a"/>
<rect x="-1.9" y="0.39" width="1.5" height="1" fill="#d9c58a"/>
<rect x="0.28" y="-6.7" width="1.5" height="1" fill="#d9c58a"/>
<rect x="0.41" y="1.59" width="1.5" height="1" fill="#d9c58a"/>
<rect x="-2.23" y="-4.39" width="1.5" height="1" fill="#d9c58a"/>
<rect x="-2.94" y="-3.67" width="1.5" height="1" fill="#d9c58a"/>
<rect x="-3.18" y="-0.78" width="1.5" height="1" fill="#d9c58a"/>
<rect x="-2.77" y="-3.67" width="1.5" height="1" fill="#d9c58a"/>
<rect x="0.56" y="1.82" width="1.2" height="0.9" fill="#1c160a"/>
<rect x="-2.91" y="-1.12" width="1.2" height="0.9" fill="#1c160a"/>
<rect x="-0.54" y="-2.71" width="1.2" height="0.9" fill="#1c160a"/>
<rect x="-0.92" y="-1.84" width="1.2" height="0.9" fill="#1c160a"/>
<rect x="-3.77" y="-7.06" width="1.2" height="0.9" fill="#1c160a"/>
<rect x="-1.96" y="-6.16" width="1.2" height="0.9" fill="#1c160a"/>
<rect x="-3.06" y="-4.47" width="1.2" height="0.9" fill="#1c160a"/>
<rect x="-1.62" y="-4.99" width="1.2" height="0.9" fill="#1c160a"/>
<rect x="-2.07" y="2.61" width="1.2" height="0.9" fill="#1c160a"/>
<rect x="-2.66" y="4.71" width="1.2" height="0.9" fill="#1c160a"/>
<rect x="-0.35" y="-7.06" width="1.2" height="0.9" fill="#1c160a"/>
<rect x="-1.83" y="-4.83" width="1.2" height="0.9" fill="#1c160a"/>
<rect x="-3.51" y="-3.97" width="1.2" height="0.9" fill="#1c160a"/>
</g>
<g transform="translate(497.1 474.3)">
<circle r="13.8" fill="#fdb07c" stroke="#111" stroke-width="0.9"/>
<circle cx="12.42" cy="0" r="1" fill="#151515"/>
<circle cx="11.75" cy="4.03" r="1" fill="#151515"/>
<circle cx="9.8" cy="7.63" r="1" fill="#151515"/>
<circle cx="6.79" cy="10.4" r="1" fill="#151515"/>
<circle cx="3.05" cy="12.04" r="1" fill="#151515"/>
<circle cx="-1.03" cy="12.38" r="1" fill="#151515"/>
<circle cx="-4.99" cy="11.37" r="1" fill="#151515"/>
<circle cx="-8.41" cy="9.14" r="1" fill="#151515"/>
<circle cx="-10.92" cy="5.91" r="1" fill="#151515"/>
<circle cx="-12.25" cy="2.04" r="1" fill="#151515"/>
<circle cx="-12.25" cy="-2.04" r="1" fill="#151515"/>
<circle cx="-10.92" cy="-5.91" r="1" fill="#151515"/>
<circle cx="-8.41" cy="-9.14" r="1" fill="#151515"/>
<circle cx="-4.99" cy="-11.37" r="1" fill="#151515"/>
<circle cx="-1.03" cy="-12.38" r="1" fill="#151515"/>
<circle cx="3.05" cy="-12.04" r="1" fill="#151515"/>
<circle cx="6.79" cy="-10.4" r="1" fill="#151515"/>
<circle cx="9.8" cy="-7.63" r="1" fill="#151515"/>
<circle cx="11.75" cy="-4.03" r="1" fill="#151515"/>
<circle cx="8.88" cy="3.44" r="1" fill="#151515"/>
<circle cx="6.5" cy="6.95" r="1" fill="#151515"/>
<circle cx="2.84" cy="9.09" r="1" fill="#151515"/>
<circle cx="-1.38" cy="9.42" r="1" fill="#151515"/>
<circle cx="-5.33" cy="7.89" r="1" fill="#151515"/>
<circle cx="-8.23" cy="4.79" r="1" fill="#151515"/>
<circle cx="-9.49" cy="0.75" r="1" fill="#151515"/>
<circle cx="-8.88" cy="-3.44" r="1" fill="#151515"/>
<circle cx="-6.5" cy="-6.95" r="1" fill="#151515"/>
<circle cx="-2.84" cy="-9.09" r="1" fill="#151515"/>
<circle cx="1.38" cy="-9.42" r="1" fill="#151515"/>
<circle cx="5.33" cy="-7.89" r="1" fill="#151515"/>
<circle cx="8.23" cy="-4.79" r="1" fill="#151515"/>
<circle cx="9.49" cy="-0.75" r="1" fill="#151515"/>
<circle cx="4.89" cy="4.47" r="1" fill="#151515"/>
<circle cx="0.88" cy="6.57" r="1" fill="#151515"/>
<circle cx="-3.55" cy="5.59" r="1" fill="#151515"/>
<circle cx="-6.31" cy="2" r="1" fill="#151515"/>
<circle cx="-6.12" cy="-2.52" r="1" fill="#151515"/>
<circle cx="-3.07" cy="-5.87" r="1" fill="#151515"/>
<circle cx="1.42" cy="-6.47" r="1" fill="#151515"/>
<circle cx="5.25" cy="-4.04" r="1" fill="#151515"/>
<circle cx="6.62" cy="0.28" r="1" fill="#151515"/>
<circle cx="1.6" cy="3.21" r="1" fill="#151515"/>
<circle cx="-3.21" cy="1.6" r="1" fill="#151515"/>
<circle cx="-1.6" cy="-3.21" r="1" fill="#151515"/>
<circle cx="3.21" cy="-1.6" r="1" fill="#151515"/>
<path d="M-2.15 -10.55C-1.64 -10.56 -0.94 -10.51 -0.45 -10.18C0.05 -9.86 0.57 -9.21 0.84 -8.58C1.1 -7.96 1.15 -7.16 1.16 -6.45C1.16 -5.74 0.95 -4.95 0.88 -4.31C0.81 -3.67 0.65 -3.21 0.73 -2.6C0.81 -2 1.03 -1.32 1.37 -0.68C1.71 -0.04 2.24 0.56 2.76 1.24C3.27 1.91 4.07 2.66 4.47 3.37C4.86 4.09 5.1 4.73 5.15 5.51C5.2 6.29 5.04 7.29 4.79 8.07C4.53 8.85 4.13 9.62 3.61 10.21C3.1 10.79 2.33 11.33 1.69 11.59C1.05 11.86 0.34 11.85 -0.23 11.81C-0.8 11.76 -1.12 11.76 -1.73 11.32C-2.33 10.87 -3.19 10.11 -3.86 9.14C-4.54 8.17 -5.29 6.65 -5.78 5.51C-6.27 4.37 -6.6 3.37 -6.81 2.31C-7.01 1.24 -7.03 0.17 -7.02 -0.9C-7.01 -1.96 -6.91 -3.1 -6.74 -4.1C-6.57 -5.1 -6.32 -6.07 -6 -6.88C-5.68 -7.68 -5.23 -8.36 -4.82 -8.9C-4.41 -9.44 -3.99 -9.85 -3.54 -10.12C-3.1 -10.39 -2.67 -10.54 -2.15 -10.55Z" fill="#6b6048" stroke="#2a1c08" stroke-width="0.9"/>
<rect x="-0.92" y="2" width="1.5" height="1" fill="#d9c58a"/>
<rect x="-2.12" y="-5.15" width="1.5" height="1" fill="#d9c58a"/>
<rect x="0.02" y="0.45" width="1.5" height="1" fill="#d9c58a"/>
<rect x="0.93" y="-1.26" width="1.5" height="1" fill="#d9c58a"/>
<rect x="-3.14" y="-4.06" width="1.5" height="1" fill="#d9c58a"/>
<rect x="-0.33" y="6.21" width="1.5" height="1" fill="#d9c58a"/>
<rect x="0.75" y="0.93" width="1.5" height="1" fill="#d9c58a"/>
<rect x="-1.97" y="-1.42" width="1.5" height="1" fill="#d9c58a"/>
<rect x="1.33" y="6.83" width="1.5" height="1" fill="#d9c58a"/>
<rect x="-1.28" y="5.62" width="1.5" height="1" fill="#d9c58a"/>
<rect x="1.13" y="2.76" width="1.5" height="1" fill="#d9c58a"/>
<rect x="-1.5" y="3.26" width="1.5" height="1" fill="#d9c58a"/>
<rect x="-2.63" y="-4.41" width="1.5" height="1" fill="#d9c58a"/>
<rect x="-1.57" y="-4.3" width="1.2" height="0.9" fill="#1c160a"/>
<rect x="-2.17" y="2.35" width="1.2" height="0.9" fill="#1c160a"/>
<rect x="-0.95" y="-0.48" width="1.2" height="0.9" fill="#1c160a"/>
<rect x="-3.16" y="0.47" width="1.2" height="0.9" fill="#1c160a"/>
<rect x="-1.86" y="4.57" width="1.2" height="0.9" fill="#1c160a"/>
<rect x="0.77" y="0.01" width="1.2" height="0.9" fill="#1c160a"/>
<rect x="-3.98" y="-6.16" width="1.2" height="0.9" fill="#1c160a"/>
<rect x="-2.94" y="-0.26" width="1.2" height="0.9" fill="#1c160a"/>
<rect x="0.54" y="-4.94" width="1.2" height="0.9" fill="#1c160a"/>
<rect x="-1.59" y="1.52" width="1.2" height="0.9" fill="#1c160a"/>
<rect x="0.09" y="-2.16" width="1.2" height="0.9" fill="#1c160a"/>
<rect x="-3.81" y="-4.06" width="1.2" height="0.9" fill="#1c160a"/>
<rect x="-3.52" y="-5.54" width="1.2" height="0.9" fill="#1c160a"/>
</g>
<polygon points="411.72,146.95 498.43,146.95 576.42,180.38 335.34,180.38" fill="#e6e6e6" stroke="#000" stroke-width="1.2" stroke-linejoin="round"/>
<path d="M427.7 158.9V166.7A26.6 5 0 0 0 480.9 166.7V158.9Z" fill="#b3cdfb" stroke="#1a1a1a" stroke-width="0.8"/>
<ellipse cx="454.3" cy="158.9" rx="26.6" ry="5" fill="#e04e00" stroke="#1a1a1a" stroke-width="0.8"/>
<g clip-path="url(#skinclip)">
<rect x="335" y="180" width="242" height="84" fill="#fcc6e2"/>
<path d="M330 212.23C330.5 212.39 332 212.86 333 213.21C334 213.57 335 213.97 336 214.36C337 214.75 338 215.17 339 215.56C340 215.95 341 216.36 342 216.71C343 217.07 344 217.42 345 217.71C346 218 347 218.27 348 218.46C349 218.66 350 218.82 351 218.9C352 218.99 353 219.03 354 218.98C355 218.93 356 218.81 357 218.6C358 218.39 359 218.1 360 217.75C361 217.4 362 216.96 363 216.49C364 216.03 365 215.49 366 214.94C367 214.39 368 213.79 369 213.2C370 212.62 371 212.01 372 211.43C373 210.86 374 210.28 375 209.76C376 209.24 377 208.74 378 208.32C379 207.9 380 207.52 381 207.23C382 206.94 383 206.71 384 206.57C385 206.44 386 206.39 387 206.41C388 206.42 389 206.52 390 206.68C391 206.83 392 207.06 393 207.33C394 207.61 395 207.95 396 208.33C397 208.71 398 209.14 399 209.6C400 210.05 401 210.55 402 211.05C403 211.55 404 212.08 405 212.58C406 213.09 407 213.61 408 214.1C409 214.58 410 215.06 411 215.48C412 215.91 413 216.31 414 216.64C415 216.98 416 217.27 417 217.5C418 217.72 419 217.9 420 217.99C421 218.09 422 218.16 423 218.07C424 217.98 425 217.78 426 217.45C427 217.12 428 216.64 429 216.07C430 215.51 431 214.8 432 214.05C433 213.3 434 212.43 435 211.55C436 210.67 437 209.7 438 208.77C439 207.83 440 206.85 441 205.94C442 205.03 443 204.12 444 203.3C445 202.49 446 201.72 447 201.07C448 200.42 449 199.84 450 199.41C451 198.98 452 198.66 453 198.48C454 198.3 455 198.25 456 198.35C457 198.45 458 198.69 459 199.06C460 199.43 461 199.96 462 200.56C463 201.17 464 201.92 465 202.7C466 203.49 467 204.39 468 205.27C469 206.15 470 207.11 471 208C472 208.89 473 209.81 474 210.63C475 211.44 476 212.23 477 212.89C478 213.54 479 214.12 480 214.55C481 214.98 482 215.29 483 215.46C484 215.63 485 215.62 486 215.55C487 215.48 488 215.3 489 215.04C490 214.79 491 214.44 492 214.03C493 213.61 494 213.11 495 212.57C496 212.02 497 211.4 498 210.76C499 210.11 500 209.41 501 208.71C502 208.01 503 207.27 504 206.56C505 205.85 506 205.12 507 204.45C508 203.77 509 203.1 510 202.5C511 201.9 512 201.34 513 200.85C514 200.37 515 199.94 516 199.6C517 199.27 518 199.01 519 198.84C520 198.67 521 198.59 522 198.6C523 198.61 524 198.71 525 198.9C526 199.08 527 199.35 528 199.69C529 200.03 530 200.45 531 200.93C532 201.4 533 201.95 534 202.53C535 203.1 536 203.74 537 204.38C538 205.02 539 205.71 540 206.37C541 207.03 542 207.71 543 208.35C544 208.98 545 209.62 546 210.19C547 210.76 548 211.3 549 211.77C550 212.23 551 212.65 552 212.98C553 213.31 554 213.57 555 213.74C556 213.91 557 214.02 558 214C559 213.98 560 213.87 561 213.61C562 213.36 563 212.97 564 212.48C565 212 566 211.38 567 210.71C568 210.04 569 209.25 570 208.44C571 207.64 572 206.75 573 205.88C574 205.02 575 204.1 576 203.24C577 202.39 578 201.53 579 200.76C580 199.99 581.5 198.99 582 198.64L582 170L330 170Z" fill="#fbc4b5"/>
<rect x="335" y="180" width="242" height="12.2" fill="#fcc9bd"/>
<path d="M335 184.4C400 183.4 480 185.6 577 184.2M335 185.6C420 186.4 500 184.8 577 186M335 190.6C400 190 500 191 577 190.4" stroke="#fff" stroke-width="1.1" fill="none" opacity="0.85"/>
<path d="M330 196.15C331.5 196.35 336 197.01 339 197.39C342 197.78 345 198.22 348 198.46C351 198.69 354 198.86 357 198.82C360 198.78 363 198.51 366 198.22C369 197.94 372 197.46 375 197.12C378 196.79 381 196.41 384 196.21C387 196.02 390 195.95 393 195.93C396 195.91 399 196.04 402 196.12C405 196.2 408 196.37 411 196.4C414 196.43 417 196.48 420 196.32C423 196.16 426 195.89 429 195.44C432 194.99 435 194.01 438 193.64C441 193.26 444 193.27 447 193.2C450 193.13 453 193.2 456 193.2C459 193.2 462 192.97 465 193.2C468 193.43 471 194.1 474 194.58C477 195.07 480 195.79 483 196.1C486 196.4 489 196.44 492 196.41C495 196.39 498 196.14 501 195.94C504 195.74 507 195.39 510 195.2C513 195.01 516 194.83 519 194.83C522 194.82 525 194.96 528 195.17C531 195.37 534 195.76 537 196.07C540 196.37 543 196.79 546 196.99C549 197.19 552 197.37 555 197.29C558 197.2 561 196.95 564 196.49C567 196.04 570 195.12 573 194.57C576 194.02 580.5 193.43 582 193.2M330 200.93C331.5 201.11 336 201.71 339 202.02C342 202.34 345 202.76 348 202.82C351 202.88 354 202.79 357 202.38C360 201.96 363 201.11 366 200.32C369 199.54 372 198.41 375 197.68C378 196.96 381 196.25 384 195.98C387 195.72 390 195.81 393 196.08C396 196.35 399 197.01 402 197.6C405 198.18 408 199.03 411 199.59C414 200.15 417 200.78 420 200.94C423 201.1 426 201.04 429 200.55C432 200.06 435 198.86 438 197.98C441 197.09 444 195.82 447 195.26C450 194.69 453 194.33 456 194.59C459 194.84 462 195.83 465 196.79C468 197.75 471 199.4 474 200.34C477 201.29 480 202.21 483 202.44C486 202.66 489 202.25 492 201.72C495 201.18 498 200.12 501 199.2C504 198.28 507 197.03 510 196.18C513 195.34 516 194.52 519 194.15C522 193.79 525 193.77 528 194C531 194.22 534 194.9 537 195.49C540 196.08 543 197 546 197.55C549 198.1 552 198.69 555 198.8C558 198.91 561 198.74 564 198.2C567 197.65 570 196.36 573 195.53C576 194.69 580.5 193.59 582 193.2M330 201.67C331.5 201.96 336 202.86 339 203.42C342 203.98 345 204.75 348 205.04C351 205.33 354 205.48 357 205.16C360 204.84 363 203.95 366 203.15C369 202.34 372 201.06 375 200.34C378 199.63 381 198.93 384 198.83C387 198.73 390 199.13 393 199.72C396 200.31 399 201.43 402 202.38C405 203.33 408 204.61 411 205.41C414 206.21 417 207.05 420 207.18C423 207.3 426 207.06 429 206.15C432 205.25 435 203.28 438 201.75C441 200.22 444 198.08 447 196.96C450 195.84 453 194.98 456 195.03C459 195.08 462 196.16 465 197.25C468 198.34 471 200.43 474 201.57C477 202.7 480 203.83 483 204.03C486 204.24 489 203.58 492 202.8C495 202.02 498 200.56 501 199.34C504 198.12 507 196.48 510 195.47C513 194.47 516 193.54 519 193.29C522 193.04 525 193.33 528 193.96C531 194.59 534 195.9 537 197.07C540 198.23 543 199.86 546 200.94C549 202.01 552 203.13 555 203.5C558 203.88 561 203.83 564 203.18C567 202.53 570 200.87 573 199.6C576 198.32 580.5 196.21 582 195.53M330 205.1C331.5 205.59 336 207.12 339 208.05C342 208.98 345 210.17 348 210.68C351 211.19 354 211.48 357 211.12C360 210.77 363 209.61 366 208.54C369 207.46 372 205.71 375 204.66C378 203.61 381 202.54 384 202.22C387 201.9 390 202.2 393 202.73C396 203.27 399 204.46 402 205.43C405 206.41 408 207.81 411 208.6C414 209.4 417 210.25 420 210.21C423 210.17 426 209.67 429 208.35C432 207.03 435 204.36 438 202.31C441 200.26 444 197.46 447 196.03C450 194.6 453 193.56 456 193.73C459 193.91 462 195.48 465 197.08C468 198.68 471 201.63 474 203.33C477 205.03 480 206.77 483 207.29C486 207.81 489 207.23 492 206.45C495 205.68 498 204.03 501 202.65C504 201.27 507 199.34 510 198.18C513 197.01 516 195.92 519 195.66C522 195.4 525 195.81 528 196.61C531 197.4 534 199.04 537 200.45C540 201.86 543 203.83 546 205.04C549 206.26 552 207.49 555 207.75C558 208.01 561 207.69 564 206.59C567 205.49 570 203.07 573 201.16C576 199.26 580.5 196.17 582 195.17M330 208.94C331.5 209.46 336 211.08 339 212.03C342 212.97 345 214.19 348 214.61C351 215.03 354 215.16 357 214.53C360 213.91 363 212.32 366 210.86C369 209.39 372 207.14 375 205.74C378 204.34 381 202.95 384 202.48C387 202.01 390 202.31 393 202.92C396 203.54 399 204.98 402 206.19C405 207.41 408 209.16 411 210.22C414 211.28 417 212.44 420 212.56C423 212.67 426 212.26 429 210.88C432 209.5 435 206.54 438 204.29C441 202.04 444 198.91 447 197.39C450 195.87 453 194.81 456 195.16C459 195.51 462 197.51 465 199.51C468 201.51 471 205.09 474 207.14C477 209.2 480 211.26 483 211.83C486 212.41 489 211.64 492 210.61C495 209.58 498 207.47 501 205.66C504 203.86 507 201.37 510 199.79C513 198.21 516 196.7 519 196.19C522 195.68 525 195.95 528 196.72C531 197.48 534 199.26 537 200.79C540 202.31 543 204.53 546 205.88C549 207.24 552 208.64 555 208.92C558 209.2 561 208.82 564 207.55C567 206.28 570 203.46 573 201.3C576 199.13 580.5 195.67 582 194.55" stroke="#111" stroke-width="0.8" fill="none"/>
<path d="M335 192.6H577" stroke="#1a1a1a" stroke-width="0.7"/>
<path d="M330 212.23C330.5 212.39 332 212.86 333 213.21C334 213.57 335 213.97 336 214.36C337 214.75 338 215.17 339 215.56C340 215.95 341 216.36 342 216.71C343 217.07 344 217.42 345 217.71C346 218 347 218.27 348 218.46C349 218.66 350 218.82 351 218.9C352 218.99 353 219.03 354 218.98C355 218.93 356 218.81 357 218.6C358 218.39 359 218.1 360 217.75C361 217.4 362 216.96 363 216.49C364 216.03 365 215.49 366 214.94C367 214.39 368 213.79 369 213.2C370 212.62 371 212.01 372 211.43C373 210.86 374 210.28 375 209.76C376 209.24 377 208.74 378 208.32C379 207.9 380 207.52 381 207.23C382 206.94 383 206.71 384 206.57C385 206.44 386 206.39 387 206.41C388 206.42 389 206.52 390 206.68C391 206.83 392 207.06 393 207.33C394 207.61 395 207.95 396 208.33C397 208.71 398 209.14 399 209.6C400 210.05 401 210.55 402 211.05C403 211.55 404 212.08 405 212.58C406 213.09 407 213.61 408 214.1C409 214.58 410 215.06 411 215.48C412 215.91 413 216.31 414 216.64C415 216.98 416 217.27 417 217.5C418 217.72 419 217.9 420 217.99C421 218.09 422 218.16 423 218.07C424 217.98 425 217.78 426 217.45C427 217.12 428 216.64 429 216.07C430 215.51 431 214.8 432 214.05C433 213.3 434 212.43 435 211.55C436 210.67 437 209.7 438 208.77C439 207.83 440 206.85 441 205.94C442 205.03 443 204.12 444 203.3C445 202.49 446 201.72 447 201.07C448 200.42 449 199.84 450 199.41C451 198.98 452 198.66 453 198.48C454 198.3 455 198.25 456 198.35C457 198.45 458 198.69 459 199.06C460 199.43 461 199.96 462 200.56C463 201.17 464 201.92 465 202.7C466 203.49 467 204.39 468 205.27C469 206.15 470 207.11 471 208C472 208.89 473 209.81 474 210.63C475 211.44 476 212.23 477 212.89C478 213.54 479 214.12 480 214.55C481 214.98 482 215.29 483 215.46C484 215.63 485 215.62 486 215.55C487 215.48 488 215.3 489 215.04C490 214.79 491 214.44 492 214.03C493 213.61 494 213.11 495 212.57C496 212.02 497 211.4 498 210.76C499 210.11 500 209.41 501 208.71C502 208.01 503 207.27 504 206.56C505 205.85 506 205.12 507 204.45C508 203.77 509 203.1 510 202.5C511 201.9 512 201.34 513 200.85C514 200.37 515 199.94 516 199.6C517 199.27 518 199.01 519 198.84C520 198.67 521 198.59 522 198.6C523 198.61 524 198.71 525 198.9C526 199.08 527 199.35 528 199.69C529 200.03 530 200.45 531 200.93C532 201.4 533 201.95 534 202.53C535 203.1 536 203.74 537 204.38C538 205.02 539 205.71 540 206.37C541 207.03 542 207.71 543 208.35C544 208.98 545 209.62 546 210.19C547 210.76 548 211.3 549 211.77C550 212.23 551 212.65 552 212.98C553 213.31 554 213.57 555 213.74C556 213.91 557 214.02 558 214C559 213.98 560 213.87 561 213.61C562 213.36 563 212.97 564 212.48C565 212 566 211.38 567 210.71C568 210.04 569 209.25 570 208.44C571 207.64 572 206.75 573 205.88C574 205.02 575 204.1 576 203.24C577 202.39 578 201.53 579 200.76C580 199.99 581.5 198.99 582 198.64" stroke="#111" stroke-width="6.6" fill="none"/>
<path d="M330 212.23C330.5 212.39 332 212.86 333 213.21C334 213.57 335 213.97 336 214.36C337 214.75 338 215.17 339 215.56C340 215.95 341 216.36 342 216.71C343 217.07 344 217.42 345 217.71C346 218 347 218.27 348 218.46C349 218.66 350 218.82 351 218.9C352 218.99 353 219.03 354 218.98C355 218.93 356 218.81 357 218.6C358 218.39 359 218.1 360 217.75C361 217.4 362 216.96 363 216.49C364 216.03 365 215.49 366 214.94C367 214.39 368 213.79 369 213.2C370 212.62 371 212.01 372 211.43C373 210.86 374 210.28 375 209.76C376 209.24 377 208.74 378 208.32C379 207.9 380 207.52 381 207.23C382 206.94 383 206.71 384 206.57C385 206.44 386 206.39 387 206.41C388 206.42 389 206.52 390 206.68C391 206.83 392 207.06 393 207.33C394 207.61 395 207.95 396 208.33C397 208.71 398 209.14 399 209.6C400 210.05 401 210.55 402 211.05C403 211.55 404 212.08 405 212.58C406 213.09 407 213.61 408 214.1C409 214.58 410 215.06 411 215.48C412 215.91 413 216.31 414 216.64C415 216.98 416 217.27 417 217.5C418 217.72 419 217.9 420 217.99C421 218.09 422 218.16 423 218.07C424 217.98 425 217.78 426 217.45C427 217.12 428 216.64 429 216.07C430 215.51 431 214.8 432 214.05C433 213.3 434 212.43 435 211.55C436 210.67 437 209.7 438 208.77C439 207.83 440 206.85 441 205.94C442 205.03 443 204.12 444 203.3C445 202.49 446 201.72 447 201.07C448 200.42 449 199.84 450 199.41C451 198.98 452 198.66 453 198.48C454 198.3 455 198.25 456 198.35C457 198.45 458 198.69 459 199.06C460 199.43 461 199.96 462 200.56C463 201.17 464 201.92 465 202.7C466 203.49 467 204.39 468 205.27C469 206.15 470 207.11 471 208C472 208.89 473 209.81 474 210.63C475 211.44 476 212.23 477 212.89C478 213.54 479 214.12 480 214.55C481 214.98 482 215.29 483 215.46C484 215.63 485 215.62 486 215.55C487 215.48 488 215.3 489 215.04C490 214.79 491 214.44 492 214.03C493 213.61 494 213.11 495 212.57C496 212.02 497 211.4 498 210.76C499 210.11 500 209.41 501 208.71C502 208.01 503 207.27 504 206.56C505 205.85 506 205.12 507 204.45C508 203.77 509 203.1 510 202.5C511 201.9 512 201.34 513 200.85C514 200.37 515 199.94 516 199.6C517 199.27 518 199.01 519 198.84C520 198.67 521 198.59 522 198.6C523 198.61 524 198.71 525 198.9C526 199.08 527 199.35 528 199.69C529 200.03 530 200.45 531 200.93C532 201.4 533 201.95 534 202.53C535 203.1 536 203.74 537 204.38C538 205.02 539 205.71 540 206.37C541 207.03 542 207.71 543 208.35C544 208.98 545 209.62 546 210.19C547 210.76 548 211.3 549 211.77C550 212.23 551 212.65 552 212.98C553 213.31 554 213.57 555 213.74C556 213.91 557 214.02 558 214C559 213.98 560 213.87 561 213.61C562 213.36 563 212.97 564 212.48C565 212 566 211.38 567 210.71C568 210.04 569 209.25 570 208.44C571 207.64 572 206.75 573 205.88C574 205.02 575 204.1 576 203.24C577 202.39 578 201.53 579 200.76C580 199.99 581.5 198.99 582 198.64" stroke="#f6a623" stroke-width="4.8" fill="none"/>
<path d="M330 212.23C330.5 212.39 332 212.86 333 213.21C334 213.57 335 213.97 336 214.36C337 214.75 338 215.17 339 215.56C340 215.95 341 216.36 342 216.71C343 217.07 344 217.42 345 217.71C346 218 347 218.27 348 218.46C349 218.66 350 218.82 351 218.9C352 218.99 353 219.03 354 218.98C355 218.93 356 218.81 357 218.6C358 218.39 359 218.1 360 217.75C361 217.4 362 216.96 363 216.49C364 216.03 365 215.49 366 214.94C367 214.39 368 213.79 369 213.2C370 212.62 371 212.01 372 211.43C373 210.86 374 210.28 375 209.76C376 209.24 377 208.74 378 208.32C379 207.9 380 207.52 381 207.23C382 206.94 383 206.71 384 206.57C385 206.44 386 206.39 387 206.41C388 206.42 389 206.52 390 206.68C391 206.83 392 207.06 393 207.33C394 207.61 395 207.95 396 208.33C397 208.71 398 209.14 399 209.6C400 210.05 401 210.55 402 211.05C403 211.55 404 212.08 405 212.58C406 213.09 407 213.61 408 214.1C409 214.58 410 215.06 411 215.48C412 215.91 413 216.31 414 216.64C415 216.98 416 217.27 417 217.5C418 217.72 419 217.9 420 217.99C421 218.09 422 218.16 423 218.07C424 217.98 425 217.78 426 217.45C427 217.12 428 216.64 429 216.07C430 215.51 431 214.8 432 214.05C433 213.3 434 212.43 435 211.55C436 210.67 437 209.7 438 208.77C439 207.83 440 206.85 441 205.94C442 205.03 443 204.12 444 203.3C445 202.49 446 201.72 447 201.07C448 200.42 449 199.84 450 199.41C451 198.98 452 198.66 453 198.48C454 198.3 455 198.25 456 198.35C457 198.45 458 198.69 459 199.06C460 199.43 461 199.96 462 200.56C463 201.17 464 201.92 465 202.7C466 203.49 467 204.39 468 205.27C469 206.15 470 207.11 471 208C472 208.89 473 209.81 474 210.63C475 211.44 476 212.23 477 212.89C478 213.54 479 214.12 480 214.55C481 214.98 482 215.29 483 215.46C484 215.63 485 215.62 486 215.55C487 215.48 488 215.3 489 215.04C490 214.79 491 214.44 492 214.03C493 213.61 494 213.11 495 212.57C496 212.02 497 211.4 498 210.76C499 210.11 500 209.41 501 208.71C502 208.01 503 207.27 504 206.56C505 205.85 506 205.12 507 204.45C508 203.77 509 203.1 510 202.5C511 201.9 512 201.34 513 200.85C514 200.37 515 199.94 516 199.6C517 199.27 518 199.01 519 198.84C520 198.67 521 198.59 522 198.6C523 198.61 524 198.71 525 198.9C526 199.08 527 199.35 528 199.69C529 200.03 530 200.45 531 200.93C532 201.4 533 201.95 534 202.53C535 203.1 536 203.74 537 204.38C538 205.02 539 205.71 540 206.37C541 207.03 542 207.71 543 208.35C544 208.98 545 209.62 546 210.19C547 210.76 548 211.3 549 211.77C550 212.23 551 212.65 552 212.98C553 213.31 554 213.57 555 213.74C556 213.91 557 214.02 558 214C559 213.98 560 213.87 561 213.61C562 213.36 563 212.97 564 212.48C565 212 566 211.38 567 210.71C568 210.04 569 209.25 570 208.44C571 207.64 572 206.75 573 205.88C574 205.02 575 204.1 576 203.24C577 202.39 578 201.53 579 200.76C580 199.99 581.5 198.99 582 198.64" stroke="#111" stroke-width="4.8" fill="none" stroke-dasharray="0.6 3.6"/>
<path d="M330 212.23C330.5 212.39 332 212.86 333 213.21C334 213.57 335 213.97 336 214.36C337 214.75 338 215.17 339 215.56C340 215.95 341 216.36 342 216.71C343 217.07 344 217.42 345 217.71C346 218 347 218.27 348 218.46C349 218.66 350 218.82 351 218.9C352 218.99 353 219.03 354 218.98C355 218.93 356 218.81 357 218.6C358 218.39 359 218.1 360 217.75C361 217.4 362 216.96 363 216.49C364 216.03 365 215.49 366 214.94C367 214.39 368 213.79 369 213.2C370 212.62 371 212.01 372 211.43C373 210.86 374 210.28 375 209.76C376 209.24 377 208.74 378 208.32C379 207.9 380 207.52 381 207.23C382 206.94 383 206.71 384 206.57C385 206.44 386 206.39 387 206.41C388 206.42 389 206.52 390 206.68C391 206.83 392 207.06 393 207.33C394 207.61 395 207.95 396 208.33C397 208.71 398 209.14 399 209.6C400 210.05 401 210.55 402 211.05C403 211.55 404 212.08 405 212.58C406 213.09 407 213.61 408 214.1C409 214.58 410 215.06 411 215.48C412 215.91 413 216.31 414 216.64C415 216.98 416 217.27 417 217.5C418 217.72 419 217.9 420 217.99C421 218.09 422 218.16 423 218.07C424 217.98 425 217.78 426 217.45C427 217.12 428 216.64 429 216.07C430 215.51 431 214.8 432 214.05C433 213.3 434 212.43 435 211.55C436 210.67 437 209.7 438 208.77C439 207.83 440 206.85 441 205.94C442 205.03 443 204.12 444 203.3C445 202.49 446 201.72 447 201.07C448 200.42 449 199.84 450 199.41C451 198.98 452 198.66 453 198.48C454 198.3 455 198.25 456 198.35C457 198.45 458 198.69 459 199.06C460 199.43 461 199.96 462 200.56C463 201.17 464 201.92 465 202.7C466 203.49 467 204.39 468 205.27C469 206.15 470 207.11 471 208C472 208.89 473 209.81 474 210.63C475 211.44 476 212.23 477 212.89C478 213.54 479 214.12 480 214.55C481 214.98 482 215.29 483 215.46C484 215.63 485 215.62 486 215.55C487 215.48 488 215.3 489 215.04C490 214.79 491 214.44 492 214.03C493 213.61 494 213.11 495 212.57C496 212.02 497 211.4 498 210.76C499 210.11 500 209.41 501 208.71C502 208.01 503 207.27 504 206.56C505 205.85 506 205.12 507 204.45C508 203.77 509 203.1 510 202.5C511 201.9 512 201.34 513 200.85C514 200.37 515 199.94 516 199.6C517 199.27 518 199.01 519 198.84C520 198.67 521 198.59 522 198.6C523 198.61 524 198.71 525 198.9C526 199.08 527 199.35 528 199.69C529 200.03 530 200.45 531 200.93C532 201.4 533 201.95 534 202.53C535 203.1 536 203.74 537 204.38C538 205.02 539 205.71 540 206.37C541 207.03 542 207.71 543 208.35C544 208.98 545 209.62 546 210.19C547 210.76 548 211.3 549 211.77C550 212.23 551 212.65 552 212.98C553 213.31 554 213.57 555 213.74C556 213.91 557 214.02 558 214C559 213.98 560 213.87 561 213.61C562 213.36 563 212.97 564 212.48C565 212 566 211.38 567 210.71C568 210.04 569 209.25 570 208.44C571 207.64 572 206.75 573 205.88C574 205.02 575 204.1 576 203.24C577 202.39 578 201.53 579 200.76C580 199.99 581.5 198.99 582 198.64" stroke="#e0501e" stroke-width="2" fill="none" stroke-dasharray="0.1 4.1" stroke-dashoffset="-2.3" stroke-linecap="round"/>
<path d="M335 228C380 222 420 232 470 226S540 220 577 224M335 236C370 240 420 226 470 234S550 238 577 230M380 242C410 228 440 222 480 228M400 240C440 232 480 238 520 228M470 224C500 232 520 240 560 244M335 232C360 228 400 240 440 238" stroke="#fff" stroke-width="0.9" fill="none" opacity="0.95"/>
<path d="M331 246Q337.56 236.99 344.12 244.76Q350.32 237 356.52 244.67Q366.15 237.91 375.78 246.5Q382.28 236.69 388.78 245.84Q395.06 236.54 401.33 244.77Q411.01 238.02 420.68 246.57Q429.78 236.77 438.88 244.98Q447.2 238.14 455.53 246.33Q464.99 237.51 474.45 244.72Q482.97 236.44 491.49 245.76Q499.12 238.34 506.75 244.72Q516.15 236.75 525.54 245.87Q535.13 238.21 544.72 245.93Q554.04 237.03 563.36 245.77Q571.55 236.4 579.75 245.58Q586.62 236.11 593.49 246.53V270H330Z" fill="#ffd800" stroke="#111" stroke-width="1"/>
<path d="M341.85 253.36q3.55 -4.99 8.55 0.51M355.39 250.73q5.22 -4.92 10.22 0.14M357.39 244.73q3 3.5 7 1M366.41 254.07q5.9 4.52 10.9 -0.67M377.43 258.31q5.36 -4.23 10.36 1.24M379.43 252.31q3 3.5 7 1M387.61 252.62q5.7 -4.16 10.7 -0.74M400.07 251.89q4.12 -4.6 9.12 1.66M402.07 245.89q3 3.5 7 1M414.32 250.49q4.52 4.95 9.52 0.27M426.23 251.01q5.39 3.84 10.39 1.69M428.23 245.01q3 3.5 7 1M435.21 250.07q3.33 -4.97 8.33 -0.75M448.19 258.29q4.68 3.72 9.68 -0.72M450.19 252.29q3 3.5 7 1M460.32 251.55q5.44 -4.89 10.44 0.67M472.23 251.34q4.07 -3 9.07 -0.64M474.23 245.34q3 3.5 7 1M484.42 258.56q3.95 -4.91 8.95 0.1M496.1 255.31q6.1 4.31 11.1 1.59M498.1 249.31q3 3.5 7 1M507.54 254.06q4.61 -3.85 9.61 -0.94M520.2 252.96q4.73 4.11 9.73 -0.03M522.2 246.96q3 3.5 7 1M529.16 255.67q3.41 -4.95 8.41 1.34M543.83 254.48q5.84 3.52 10.84 0.28M545.83 248.48q3 3.5 7 1M553.32 258.68q4.6 3.28 9.6 0.11M566.87 251.54q6.37 4.9 11.37 1.93M568.87 245.54q3 3.5 7 1" stroke="#111" stroke-width="0.9" fill="none" stroke-linecap="round"/>
</g>
<g transform="translate(384.3 224.1)">
<circle r="10" fill="#fdb07c" stroke="#111" stroke-width="0.9"/>
<circle cx="9" cy="0" r="0.9" fill="#151515"/>
<circle cx="8.51" cy="2.92" r="0.9" fill="#151515"/>
<circle cx="7.1" cy="5.53" r="0.9" fill="#151515"/>
<circle cx="4.92" cy="7.53" r="0.9" fill="#151515"/>
<circle cx="2.21" cy="8.72" r="0.9" fill="#151515"/>
<circle cx="-0.74" cy="8.97" r="0.9" fill="#151515"/>
<circle cx="-3.62" cy="8.24" r="0.9" fill="#151515"/>
<circle cx="-6.1" cy="6.62" r="0.9" fill="#151515"/>
<circle cx="-7.92" cy="4.28" r="0.9" fill="#151515"/>
<circle cx="-8.88" cy="1.48" r="0.9" fill="#151515"/>
<circle cx="-8.88" cy="-1.48" r="0.9" fill="#151515"/>
<circle cx="-7.92" cy="-4.28" r="0.9" fill="#151515"/>
<circle cx="-6.1" cy="-6.62" r="0.9" fill="#151515"/>
<circle cx="-3.62" cy="-8.24" r="0.9" fill="#151515"/>
<circle cx="-0.74" cy="-8.97" r="0.9" fill="#151515"/>
<circle cx="2.21" cy="-8.72" r="0.9" fill="#151515"/>
<circle cx="4.92" cy="-7.53" r="0.9" fill="#151515"/>
<circle cx="7.1" cy="-5.53" r="0.9" fill="#151515"/>
<circle cx="8.51" cy="-2.92" r="0.9" fill="#151515"/>
<circle cx="6.43" cy="2.5" r="0.9" fill="#151515"/>
<circle cx="4.71" cy="5.04" r="0.9" fill="#151515"/>
<circle cx="2.06" cy="6.59" r="0.9" fill="#151515"/>
<circle cx="-1" cy="6.83" r="0.9" fill="#151515"/>
<circle cx="-3.86" cy="5.72" r="0.9" fill="#151515"/>
<circle cx="-5.96" cy="3.47" r="0.9" fill="#151515"/>
<circle cx="-6.88" cy="0.54" r="0.9" fill="#151515"/>
<circle cx="-6.43" cy="-2.5" r="0.9" fill="#151515"/>
<circle cx="-4.71" cy="-5.04" r="0.9" fill="#151515"/>
<circle cx="-2.06" cy="-6.59" r="0.9" fill="#151515"/>
<circle cx="1" cy="-6.83" r="0.9" fill="#151515"/>
<circle cx="3.86" cy="-5.72" r="0.9" fill="#151515"/>
<circle cx="5.96" cy="-3.47" r="0.9" fill="#151515"/>
<circle cx="6.88" cy="-0.54" r="0.9" fill="#151515"/>
<circle cx="3.54" cy="3.24" r="0.9" fill="#151515"/>
<circle cx="0.63" cy="4.76" r="0.9" fill="#151515"/>
<circle cx="-2.57" cy="4.05" r="0.9" fill="#151515"/>
<circle cx="-4.58" cy="1.45" r="0.9" fill="#151515"/>
<circle cx="-4.44" cy="-1.83" r="0.9" fill="#151515"/>
<circle cx="-2.22" cy="-4.25" r="0.9" fill="#151515"/>
<circle cx="1.03" cy="-4.69" r="0.9" fill="#151515"/>
<circle cx="3.8" cy="-2.93" r="0.9" fill="#151515"/>
<circle cx="4.8" cy="0.2" r="0.9" fill="#151515"/>
<circle cx="1.16" cy="2.33" r="0.9" fill="#151515"/>
<circle cx="-2.33" cy="1.16" r="0.9" fill="#151515"/>
<circle cx="-1.16" cy="-2.33" r="0.9" fill="#151515"/>
<circle cx="2.33" cy="-1.16" r="0.9" fill="#151515"/>
<path d="M-1.56 -7.64C-1.19 -7.65 -0.68 -7.62 -0.32 -7.38C0.04 -7.14 0.41 -6.67 0.61 -6.22C0.8 -5.77 0.83 -5.19 0.84 -4.67C0.84 -4.16 0.69 -3.59 0.64 -3.13C0.59 -2.66 0.47 -2.33 0.53 -1.89C0.59 -1.45 0.75 -0.96 0.99 -0.5C1.24 -0.03 1.62 0.41 2 0.9C2.37 1.39 2.95 1.93 3.24 2.44C3.52 2.96 3.69 3.42 3.73 3.99C3.77 4.56 3.65 5.28 3.47 5.85C3.28 6.42 2.99 6.97 2.62 7.4C2.24 7.82 1.69 8.21 1.22 8.4C0.76 8.59 0.24 8.59 -0.17 8.56C-0.58 8.52 -0.81 8.52 -1.25 8.2C-1.69 7.88 -2.31 7.32 -2.8 6.62C-3.29 5.92 -3.83 4.82 -4.19 3.99C-4.55 3.17 -4.78 2.44 -4.93 1.67C-5.08 0.9 -5.1 0.12 -5.09 -0.65C-5.08 -1.42 -5.01 -2.25 -4.89 -2.97C-4.76 -3.69 -4.58 -4.4 -4.35 -4.98C-4.11 -5.56 -3.79 -6.06 -3.49 -6.45C-3.2 -6.84 -2.89 -7.14 -2.57 -7.33C-2.24 -7.53 -1.93 -7.64 -1.56 -7.64Z" fill="#4f4636" stroke="#2a1c08" stroke-width="0.9"/>
<rect x="-1.01" y="0.6" width="1.5" height="1" fill="#8d8468"/>
<rect x="0.39" y="0.73" width="1.5" height="1" fill="#8d8468"/>
<rect x="-0.82" y="-1.72" width="1.5" height="1" fill="#8d8468"/>
<rect x="-0.02" y="-2.45" width="1.5" height="1" fill="#8d8468"/>
<rect x="-0.29" y="2.38" width="1.5" height="1" fill="#8d8468"/>
<rect x="-0.76" y="4.79" width="1.5" height="1" fill="#8d8468"/>
<rect x="-1.24" y="-0.65" width="1.5" height="1" fill="#8d8468"/>
<rect x="-1.77" y="2.62" width="1.5" height="1" fill="#8d8468"/>
<rect x="-0.73" y="0.56" width="1.5" height="1" fill="#8d8468"/>
<rect x="-1" y="0.07" width="1.5" height="1" fill="#8d8468"/>
<rect x="-0.5" y="-5.05" width="1.5" height="1" fill="#8d8468"/>
<rect x="-2.51" y="-3.83" width="1.5" height="1" fill="#8d8468"/>
<rect x="-2.19" y="-3.56" width="1.5" height="1" fill="#8d8468"/>
<rect x="-2.47" y="-1.81" width="1.2" height="0.9" fill="#1c160a"/>
<rect x="-1.1" y="-0.39" width="1.2" height="0.9" fill="#1c160a"/>
<rect x="1.43" y="5.51" width="1.2" height="0.9" fill="#1c160a"/>
<rect x="-0.51" y="-5.6" width="1.2" height="0.9" fill="#1c160a"/>
<rect x="-1.41" y="2.25" width="1.2" height="0.9" fill="#1c160a"/>
<rect x="-1.16" y="4.24" width="1.2" height="0.9" fill="#1c160a"/>
<rect x="0.34" y="3.93" width="1.2" height="0.9" fill="#1c160a"/>
<rect x="-0.33" y="-4.39" width="1.2" height="0.9" fill="#1c160a"/>
<rect x="1.29" y="4.8" width="1.2" height="0.9" fill="#1c160a"/>
<rect x="0.01" y="0.23" width="1.2" height="0.9" fill="#1c160a"/>
<rect x="-0.03" y="-3.29" width="1.2" height="0.9" fill="#1c160a"/>
<rect x="-0.98" y="3.55" width="1.2" height="0.9" fill="#1c160a"/>
<rect x="-0.21" y="2.92" width="1.2" height="0.9" fill="#1c160a"/>
</g>
<g transform="translate(461.4 226.9)">
<circle r="10" fill="#fdb07c" stroke="#111" stroke-width="0.9"/>
<circle cx="9" cy="0" r="0.9" fill="#151515"/>
<circle cx="8.51" cy="2.92" r="0.9" fill="#151515"/>
<circle cx="7.1" cy="5.53" r="0.9" fill="#151515"/>
<circle cx="4.92" cy="7.53" r="0.9" fill="#151515"/>
<circle cx="2.21" cy="8.72" r="0.9" fill="#151515"/>
<circle cx="-0.74" cy="8.97" r="0.9" fill="#151515"/>
<circle cx="-3.62" cy="8.24" r="0.9" fill="#151515"/>
<circle cx="-6.1" cy="6.62" r="0.9" fill="#151515"/>
<circle cx="-7.92" cy="4.28" r="0.9" fill="#151515"/>
<circle cx="-8.88" cy="1.48" r="0.9" fill="#151515"/>
<circle cx="-8.88" cy="-1.48" r="0.9" fill="#151515"/>
<circle cx="-7.92" cy="-4.28" r="0.9" fill="#151515"/>
<circle cx="-6.1" cy="-6.62" r="0.9" fill="#151515"/>
<circle cx="-3.62" cy="-8.24" r="0.9" fill="#151515"/>
<circle cx="-0.74" cy="-8.97" r="0.9" fill="#151515"/>
<circle cx="2.21" cy="-8.72" r="0.9" fill="#151515"/>
<circle cx="4.92" cy="-7.53" r="0.9" fill="#151515"/>
<circle cx="7.1" cy="-5.53" r="0.9" fill="#151515"/>
<circle cx="8.51" cy="-2.92" r="0.9" fill="#151515"/>
<circle cx="6.43" cy="2.5" r="0.9" fill="#151515"/>
<circle cx="4.71" cy="5.04" r="0.9" fill="#151515"/>
<circle cx="2.06" cy="6.59" r="0.9" fill="#151515"/>
<circle cx="-1" cy="6.83" r="0.9" fill="#151515"/>
<circle cx="-3.86" cy="5.72" r="0.9" fill="#151515"/>
<circle cx="-5.96" cy="3.47" r="0.9" fill="#151515"/>
<circle cx="-6.88" cy="0.54" r="0.9" fill="#151515"/>
<circle cx="-6.43" cy="-2.5" r="0.9" fill="#151515"/>
<circle cx="-4.71" cy="-5.04" r="0.9" fill="#151515"/>
<circle cx="-2.06" cy="-6.59" r="0.9" fill="#151515"/>
<circle cx="1" cy="-6.83" r="0.9" fill="#151515"/>
<circle cx="3.86" cy="-5.72" r="0.9" fill="#151515"/>
<circle cx="5.96" cy="-3.47" r="0.9" fill="#151515"/>
<circle cx="6.88" cy="-0.54" r="0.9" fill="#151515"/>
<circle cx="3.54" cy="3.24" r="0.9" fill="#151515"/>
<circle cx="0.63" cy="4.76" r="0.9" fill="#151515"/>
<circle cx="-2.57" cy="4.05" r="0.9" fill="#151515"/>
<circle cx="-4.58" cy="1.45" r="0.9" fill="#151515"/>
<circle cx="-4.44" cy="-1.83" r="0.9" fill="#151515"/>
<circle cx="-2.22" cy="-4.25" r="0.9" fill="#151515"/>
<circle cx="1.03" cy="-4.69" r="0.9" fill="#151515"/>
<circle cx="3.8" cy="-2.93" r="0.9" fill="#151515"/>
<circle cx="4.8" cy="0.2" r="0.9" fill="#151515"/>
<circle cx="1.16" cy="2.33" r="0.9" fill="#151515"/>
<circle cx="-2.33" cy="1.16" r="0.9" fill="#151515"/>
<circle cx="-1.16" cy="-2.33" r="0.9" fill="#151515"/>
<circle cx="2.33" cy="-1.16" r="0.9" fill="#151515"/>
<path d="M-1.56 -7.64C-1.19 -7.65 -0.68 -7.62 -0.32 -7.38C0.04 -7.14 0.41 -6.67 0.61 -6.22C0.8 -5.77 0.83 -5.19 0.84 -4.67C0.84 -4.16 0.69 -3.59 0.64 -3.13C0.59 -2.66 0.47 -2.33 0.53 -1.89C0.59 -1.45 0.75 -0.96 0.99 -0.5C1.24 -0.03 1.62 0.41 2 0.9C2.37 1.39 2.95 1.93 3.24 2.44C3.52 2.96 3.69 3.42 3.73 3.99C3.77 4.56 3.65 5.28 3.47 5.85C3.28 6.42 2.99 6.97 2.62 7.4C2.24 7.82 1.69 8.21 1.22 8.4C0.76 8.59 0.24 8.59 -0.17 8.56C-0.58 8.52 -0.81 8.52 -1.25 8.2C-1.69 7.88 -2.31 7.32 -2.8 6.62C-3.29 5.92 -3.83 4.82 -4.19 3.99C-4.55 3.17 -4.78 2.44 -4.93 1.67C-5.08 0.9 -5.1 0.12 -5.09 -0.65C-5.08 -1.42 -5.01 -2.25 -4.89 -2.97C-4.76 -3.69 -4.58 -4.4 -4.35 -4.98C-4.11 -5.56 -3.79 -6.06 -3.49 -6.45C-3.2 -6.84 -2.89 -7.14 -2.57 -7.33C-2.24 -7.53 -1.93 -7.64 -1.56 -7.64Z" fill="#4f4636" stroke="#2a1c08" stroke-width="0.9"/>
<rect x="-1" y="3.89" width="1.5" height="1" fill="#8d8468"/>
<rect x="-2.37" y="-5.21" width="1.5" height="1" fill="#8d8468"/>
<rect x="-1.67" y="-2.59" width="1.5" height="1" fill="#8d8468"/>
<rect x="-2.33" y="-0.73" width="1.5" height="1" fill="#8d8468"/>
<rect x="-1.79" y="1.94" width="1.5" height="1" fill="#8d8468"/>
<rect x="0.1" y="0.21" width="1.5" height="1" fill="#8d8468"/>
<rect x="-1.52" y="0.47" width="1.5" height="1" fill="#8d8468"/>
<rect x="0.81" y="4.18" width="1.5" height="1" fill="#8d8468"/>
<rect x="-2.08" y="-4.69" width="1.5" height="1" fill="#8d8468"/>
<rect x="-0.64" y="0.88" width="1.5" height="1" fill="#8d8468"/>
<rect x="-0.54" y="2.53" width="1.5" height="1" fill="#8d8468"/>
<rect x="0.97" y="4.99" width="1.5" height="1" fill="#8d8468"/>
<rect x="-1.12" y="-0.1" width="1.5" height="1" fill="#8d8468"/>
<rect x="-0.58" y="5.03" width="1.2" height="0.9" fill="#1c160a"/>
<rect x="-0.27" y="-2.45" width="1.2" height="0.9" fill="#1c160a"/>
<rect x="1.23" y="5.18" width="1.2" height="0.9" fill="#1c160a"/>
<rect x="0.64" y="2.99" width="1.2" height="0.9" fill="#1c160a"/>
<rect x="-0.62" y="-0.33" width="1.2" height="0.9" fill="#1c160a"/>
<rect x="0.01" y="2.91" width="1.2" height="0.9" fill="#1c160a"/>
<rect x="-2" y="-2.54" width="1.2" height="0.9" fill="#1c160a"/>
<rect x="-0.57" y="5.37" width="1.2" height="0.9" fill="#1c160a"/>
<rect x="0.12" y="4.47" width="1.2" height="0.9" fill="#1c160a"/>
<rect x="-1.73" y="4.4" width="1.2" height="0.9" fill="#1c160a"/>
<rect x="-1.81" y="-5.39" width="1.2" height="0.9" fill="#1c160a"/>
<rect x="-1.15" y="-3.06" width="1.2" height="0.9" fill="#1c160a"/>
<rect x="0.45" y="5.24" width="1.2" height="0.9" fill="#1c160a"/>
</g>
<g transform="translate(530.4 226.6)">
<circle r="10" fill="#fdb07c" stroke="#111" stroke-width="0.9"/>
<circle cx="9" cy="0" r="0.9" fill="#151515"/>
<circle cx="8.51" cy="2.92" r="0.9" fill="#151515"/>
<circle cx="7.1" cy="5.53" r="0.9" fill="#151515"/>
<circle cx="4.92" cy="7.53" r="0.9" fill="#151515"/>
<circle cx="2.21" cy="8.72" r="0.9" fill="#151515"/>
<circle cx="-0.74" cy="8.97" r="0.9" fill="#151515"/>
<circle cx="-3.62" cy="8.24" r="0.9" fill="#151515"/>
<circle cx="-6.1" cy="6.62" r="0.9" fill="#151515"/>
<circle cx="-7.92" cy="4.28" r="0.9" fill="#151515"/>
<circle cx="-8.88" cy="1.48" r="0.9" fill="#151515"/>
<circle cx="-8.88" cy="-1.48" r="0.9" fill="#151515"/>
<circle cx="-7.92" cy="-4.28" r="0.9" fill="#151515"/>
<circle cx="-6.1" cy="-6.62" r="0.9" fill="#151515"/>
<circle cx="-3.62" cy="-8.24" r="0.9" fill="#151515"/>
<circle cx="-0.74" cy="-8.97" r="0.9" fill="#151515"/>
<circle cx="2.21" cy="-8.72" r="0.9" fill="#151515"/>
<circle cx="4.92" cy="-7.53" r="0.9" fill="#151515"/>
<circle cx="7.1" cy="-5.53" r="0.9" fill="#151515"/>
<circle cx="8.51" cy="-2.92" r="0.9" fill="#151515"/>
<circle cx="6.43" cy="2.5" r="0.9" fill="#151515"/>
<circle cx="4.71" cy="5.04" r="0.9" fill="#151515"/>
<circle cx="2.06" cy="6.59" r="0.9" fill="#151515"/>
<circle cx="-1" cy="6.83" r="0.9" fill="#151515"/>
<circle cx="-3.86" cy="5.72" r="0.9" fill="#151515"/>
<circle cx="-5.96" cy="3.47" r="0.9" fill="#151515"/>
<circle cx="-6.88" cy="0.54" r="0.9" fill="#151515"/>
<circle cx="-6.43" cy="-2.5" r="0.9" fill="#151515"/>
<circle cx="-4.71" cy="-5.04" r="0.9" fill="#151515"/>
<circle cx="-2.06" cy="-6.59" r="0.9" fill="#151515"/>
<circle cx="1" cy="-6.83" r="0.9" fill="#151515"/>
<circle cx="3.86" cy="-5.72" r="0.9" fill="#151515"/>
<circle cx="5.96" cy="-3.47" r="0.9" fill="#151515"/>
<circle cx="6.88" cy="-0.54" r="0.9" fill="#151515"/>
<circle cx="3.54" cy="3.24" r="0.9" fill="#151515"/>
<circle cx="0.63" cy="4.76" r="0.9" fill="#151515"/>
<circle cx="-2.57" cy="4.05" r="0.9" fill="#151515"/>
<circle cx="-4.58" cy="1.45" r="0.9" fill="#151515"/>
<circle cx="-4.44" cy="-1.83" r="0.9" fill="#151515"/>
<circle cx="-2.22" cy="-4.25" r="0.9" fill="#151515"/>
<circle cx="1.03" cy="-4.69" r="0.9" fill="#151515"/>
<circle cx="3.8" cy="-2.93" r="0.9" fill="#151515"/>
<circle cx="4.8" cy="0.2" r="0.9" fill="#151515"/>
<circle cx="1.16" cy="2.33" r="0.9" fill="#151515"/>
<circle cx="-2.33" cy="1.16" r="0.9" fill="#151515"/>
<circle cx="-1.16" cy="-2.33" r="0.9" fill="#151515"/>
<circle cx="2.33" cy="-1.16" r="0.9" fill="#151515"/>
<path d="M-1.56 -7.64C-1.19 -7.65 -0.68 -7.62 -0.32 -7.38C0.04 -7.14 0.41 -6.67 0.61 -6.22C0.8 -5.77 0.83 -5.19 0.84 -4.67C0.84 -4.16 0.69 -3.59 0.64 -3.13C0.59 -2.66 0.47 -2.33 0.53 -1.89C0.59 -1.45 0.75 -0.96 0.99 -0.5C1.24 -0.03 1.62 0.41 2 0.9C2.37 1.39 2.95 1.93 3.24 2.44C3.52 2.96 3.69 3.42 3.73 3.99C3.77 4.56 3.65 5.28 3.47 5.85C3.28 6.42 2.99 6.97 2.62 7.4C2.24 7.82 1.69 8.21 1.22 8.4C0.76 8.59 0.24 8.59 -0.17 8.56C-0.58 8.52 -0.81 8.52 -1.25 8.2C-1.69 7.88 -2.31 7.32 -2.8 6.62C-3.29 5.92 -3.83 4.82 -4.19 3.99C-4.55 3.17 -4.78 2.44 -4.93 1.67C-5.08 0.9 -5.1 0.12 -5.09 -0.65C-5.08 -1.42 -5.01 -2.25 -4.89 -2.97C-4.76 -3.69 -4.58 -4.4 -4.35 -4.98C-4.11 -5.56 -3.79 -6.06 -3.49 -6.45C-3.2 -6.84 -2.89 -7.14 -2.57 -7.33C-2.24 -7.53 -1.93 -7.64 -1.56 -7.64Z" fill="#4f4636" stroke="#2a1c08" stroke-width="0.9"/>
<rect x="0.1" y="-0.53" width="1.5" height="1" fill="#8d8468"/>
<rect x="0.84" y="3.77" width="1.5" height="1" fill="#8d8468"/>
<rect x="-1.38" y="-1.39" width="1.5" height="1" fill="#8d8468"/>
<rect x="0.76" y="4.73" width="1.5" height="1" fill="#8d8468"/>
<rect x="-1.82" y="-1.23" width="1.5" height="1" fill="#8d8468"/>
<rect x="0.29" y="0.58" width="1.5" height="1" fill="#8d8468"/>
<rect x="-2.12" y="-3.76" width="1.5" height="1" fill="#8d8468"/>
<rect x="-2.31" y="-0.28" width="1.5" height="1" fill="#8d8468"/>
<rect x="0.99" y="0.79" width="1.5" height="1" fill="#8d8468"/>
<rect x="-1.66" y="-3.61" width="1.5" height="1" fill="#8d8468"/>
<rect x="-1.81" y="-3.96" width="1.5" height="1" fill="#8d8468"/>
<rect x="-1.96" y="-3.77" width="1.5" height="1" fill="#8d8468"/>
<rect x="-0.88" y="3.17" width="1.5" height="1" fill="#8d8468"/>
<rect x="-0.58" y="4.42" width="1.2" height="0.9" fill="#1c160a"/>
<rect x="0.22" y="-4.5" width="1.2" height="0.9" fill="#1c160a"/>
<rect x="-2.47" y="-0.87" width="1.2" height="0.9" fill="#1c160a"/>
<rect x="-0.65" y="-3.87" width="1.2" height="0.9" fill="#1c160a"/>
<rect x="-0.32" y="5.27" width="1.2" height="0.9" fill="#1c160a"/>
<rect x="-1.19" y="-5.41" width="1.2" height="0.9" fill="#1c160a"/>
<rect x="-1.25" y="-2.26" width="1.2" height="0.9" fill="#1c160a"/>
<rect x="-0.37" y="-3.72" width="1.2" height="0.9" fill="#1c160a"/>
<rect x="-0.53" y="-4.99" width="1.2" height="0.9" fill="#1c160a"/>
<rect x="1.45" y="5.03" width="1.2" height="0.9" fill="#1c160a"/>
<rect x="0.09" y="1.94" width="1.2" height="0.9" fill="#1c160a"/>
<rect x="-1.1" y="1.6" width="1.2" height="0.9" fill="#1c160a"/>
<rect x="-0.48" y="0.21" width="1.2" height="0.9" fill="#1c160a"/>
</g>
<rect x="335.3" y="180.4" width="241.1" height="82.8" fill="none" stroke="#000" stroke-width="1.4"/>
<path d="M528.9 216.9L755.9 145.6M530.7 237.2L776.2 296.2" stroke="#111" stroke-width="1.8" stroke-dasharray="3.4 2.6" fill="none"/>
<use href="#capsule" transform="translate(797.5 217.1)"/>
</g>
<g id="panel-b">
<text transform="translate(1096 29.3) scale(1.16 1)" font-size="37" font-weight="bold" fill="#000" stroke="#000" stroke-width="1" stroke-linejoin="round">b</text>
<path d="M1245.4 52V552.2" fill="none" stroke="#1a1a1a" stroke-width="1.5" />
<path d="M1227.3 551.2H1697.7" fill="none" stroke="#1a1a1a" stroke-width="1.5" />
<line x1="1227.3" y1="54.2" x2="1245.4" y2="54.2" stroke="#1a1a1a" stroke-width="1.5" />
<line x1="1227.3" y1="219.7" x2="1245.4" y2="219.7" stroke="#1a1a1a" stroke-width="1.5" />
<line x1="1227.3" y1="385.3" x2="1245.4" y2="385.3" stroke="#1a1a1a" stroke-width="1.5" />
<text font-size="24" text-anchor="end" transform="translate(1214.4 63.5) scale(1.08 1)">6<tspan font-size="19.68" dx="4.2">×</tspan><tspan dx="1.2">10</tspan><tspan dy="-12.96" dx="-1.2" font-size="15.6">4</tspan></text>
<text font-size="24" text-anchor="end" transform="translate(1214.4 229) scale(1.08 1)">4<tspan font-size="19.68" dx="4.2">×</tspan><tspan dx="1.2">10</tspan><tspan dy="-12.96" dx="-1.2" font-size="15.6">4</tspan></text>
<text font-size="24" text-anchor="end" transform="translate(1214.4 394.6) scale(1.08 1)">2<tspan font-size="19.68" dx="4.2">×</tspan><tspan dx="1.2">10</tspan><tspan dy="-12.96" dx="-1.2" font-size="15.6">4</tspan></text>
<text font-size="24" text-anchor="end" transform="translate(1214.5 559.8) scale(1.09 1)">0</text>
<line x1="1313.7" y1="551.2" x2="1313.7" y2="568.6" stroke="#1a1a1a" stroke-width="1.5" />
<line x1="1418.3" y1="551.2" x2="1418.3" y2="568.6" stroke="#1a1a1a" stroke-width="1.5" />
<line x1="1522" y1="551.2" x2="1522" y2="568.6" stroke="#1a1a1a" stroke-width="1.5" />
<line x1="1626.2" y1="551.2" x2="1626.2" y2="568.6" stroke="#1a1a1a" stroke-width="1.5" />
<text font-size="24" text-anchor="middle" transform="translate(1314 599.4) scale(1.09 1)">0</text>
<text font-size="24" text-anchor="middle" transform="translate(1418.6 599.4) scale(1.09 1)">30</text>
<text font-size="24" text-anchor="middle" transform="translate(1522.3 599.4) scale(1.09 1)">130</text>
<text font-size="24" text-anchor="middle" transform="translate(1626.5 599.4) scale(1.09 1)">300</text>
<rect x="1279.8" y="496.2" width="69.5" height="55" fill="#e3eefb" stroke="#1a1a1a" stroke-width="1.3" />
<rect x="1384" y="404.3" width="69.4" height="146.9" fill="#e3eefb" stroke="#1a1a1a" stroke-width="1.3" />
<rect x="1488.1" y="258.3" width="69.5" height="292.9" fill="#e3eefb" stroke="#1a1a1a" stroke-width="1.3" />
<rect x="1592.3" y="234.1" width="69.4" height="317.1" fill="#e3eefb" stroke="#1a1a1a" stroke-width="1.3" />
<path d="M1297.5 478.4H1331.5M1314.5 478.4V513.5M1297.5 513.5H1331.5" fill="none" stroke="#1a1a1a" stroke-width="1.3" />
<path d="M1401.7 373.8H1435.7M1418.7 373.8V434M1401.7 434H1435.7" fill="none" stroke="#1a1a1a" stroke-width="1.3" />
<path d="M1505.4 211.7H1539.4M1522.4 211.7V304.4M1505.4 304.4H1539.4" fill="none" stroke="#1a1a1a" stroke-width="1.3" />
<path d="M1609.6 171.5H1643.6M1626.6 171.5V296.4M1609.6 296.4H1643.6" fill="none" stroke="#1a1a1a" stroke-width="1.3" />
<circle cx="1288.7" cy="447.9" r="8.7" fill="#c8def8" stroke="#000" stroke-width="1.4"/>
<circle cx="1340.8" cy="464.4" r="8.7" fill="#c8def8" stroke="#000" stroke-width="1.4"/>
<circle cx="1314.1" cy="495.3" r="8.7" fill="#c8def8" stroke="#000" stroke-width="1.4"/>
<circle cx="1288.7" cy="536.8" r="8.7" fill="#c8def8" stroke="#000" stroke-width="1.4"/>
<circle cx="1340.8" cy="533.4" r="8.7" fill="#c8def8" stroke="#000" stroke-width="1.4"/>
<circle cx="1418.7" cy="304" r="8.7" fill="#c8def8" stroke="#000" stroke-width="1.4"/>
<circle cx="1418.7" cy="370" r="8.7" fill="#c8def8" stroke="#000" stroke-width="1.4"/>
<circle cx="1418.7" cy="429.3" r="8.7" fill="#c8def8" stroke="#000" stroke-width="1.4"/>
<circle cx="1418.7" cy="446.2" r="8.7" fill="#c8def8" stroke="#000" stroke-width="1.4"/>
<circle cx="1418.7" cy="469.9" r="8.7" fill="#c8def8" stroke="#000" stroke-width="1.4"/>
<circle cx="1522.4" cy="136.3" r="8.7" fill="#c8def8" stroke="#000" stroke-width="1.4"/>
<circle cx="1522.4" cy="174" r="8.7" fill="#c8def8" stroke="#000" stroke-width="1.4"/>
<circle cx="1522.4" cy="267.6" r="8.7" fill="#c8def8" stroke="#000" stroke-width="1.4"/>
<circle cx="1522.4" cy="324.7" r="8.7" fill="#c8def8" stroke="#000" stroke-width="1.4"/>
<circle cx="1522.4" cy="387.8" r="8.7" fill="#c8def8" stroke="#000" stroke-width="1.4"/>
<circle cx="1626.6" cy="65.2" r="8.7" fill="#c8def8" stroke="#000" stroke-width="1.4"/>
<circle cx="1626.6" cy="164.3" r="8.7" fill="#c8def8" stroke="#000" stroke-width="1.4"/>
<circle cx="1626.6" cy="190.9" r="8.7" fill="#c8def8" stroke="#000" stroke-width="1.4"/>
<circle cx="1626.6" cy="336.6" r="8.7" fill="#c8def8" stroke="#000" stroke-width="1.4"/>
<circle cx="1626.6" cy="412.8" r="8.7" fill="#c8def8" stroke="#000" stroke-width="1.4"/>
<path d="M1301 232.9V62.2H1517.8V71.1" fill="none" stroke="#ee4450" stroke-width="1.6" />
<text font-size="22" text-anchor="middle" textLength="103.81" lengthAdjust="spacingAndGlyphs" transform="translate(1423.8 28.8) scale(1.05 1)"><tspan font-style="italic">P</tspan> = 0.0013</text>
<text font-size="34" text-anchor="middle" transform="translate(1416 64.5) scale(1.05 1)">**</text>
<text font-size="27" textLength="47.14" lengthAdjust="spacingAndGlyphs" transform="translate(1311.5 160) scale(1.05 1)">×5.2</text>
<text font-size="26.5" text-anchor="middle" transform="translate(1110 302.7) rotate(-90) scale(0.9 1)" dominant-baseline="central">RLU</text>
<text font-size="27" text-anchor="end" transform="translate(1181 584.4) scale(1.05 1)">NG patch</text>
<text font-size="27" text-anchor="end" textLength="154.29" lengthAdjust="spacingAndGlyphs" transform="translate(1182 617.2) scale(1.05 1)">(µg per 24 h)</text>
<text font-size="24.2" transform="translate(1406.4 639.3) scale(1.03 1)">HEK<tspan dy="8.47" dx="-0.3" font-size="17.42">hNORM1</tspan></text>
</g>
<g id="panel-c">
<text transform="translate(0 773) scale(1.16 1)" font-size="37" font-weight="bold" fill="#000" stroke="#000" stroke-width="1" stroke-linejoin="round">c</text>
<text font-size="25.5" textLength="101.9" lengthAdjust="spacingAndGlyphs" transform="translate(12 814) scale(1.05 1)">HEK-293</text>
<text font-size="25.5" textLength="37.14" lengthAdjust="spacingAndGlyphs" transform="translate(149.5 814) scale(1.05 1)">WT</text>
<text font-size="25.5" textLength="100.95" lengthAdjust="spacingAndGlyphs" transform="translate(200 814) scale(1.05 1)">hNORM1</text>
<text font-size="25.5" textLength="106.19" lengthAdjust="spacingAndGlyphs" transform="translate(317.6 814) scale(1.05 1)">hNORM2</text>
<text font-size="25.5" textLength="80.76" lengthAdjust="spacingAndGlyphs" transform="translate(34.6 1109.6) scale(1.05 1)">ALDH2</text>
<text font-size="25.5" textLength="110.48" lengthAdjust="spacingAndGlyphs" transform="translate(3.5 1404.7) scale(1.05 1)">α-Actinin</text>
<text font-size="25.5" textLength="79.52" lengthAdjust="spacingAndGlyphs" transform="translate(462.6 1107) scale(1.05 1)">55 kDa</text>
<text font-size="25.5" textLength="94.95" lengthAdjust="spacingAndGlyphs" transform="translate(462.6 1404.7) scale(1.05 1)">100 kDa</text>
<rect x="133.2" y="826.2" width="292.4" height="498.3" fill="url(#blotg)" stroke="#1a1a1a" stroke-width="0" />
<g clip-path="url(#clipc1)">
<path d="M408.89 1015.57 L411.66 1015.57 L414.6 1083.04 L405.95 1083.04 Z" fill="#6a6a6a" opacity="0.45" filter="url(#bl2)"/>
<path d="M332.42 1064.01 L406.82 1060.55 L413.74 1089.97 L323.77 1089.97 Z" fill="#555" opacity="0.55" filter="url(#bl4)"/>
<ellipse cx="322.04" cy="1093.43" rx="9" ry="11" fill="#444" opacity="0.5" filter="url(#bl4)"/>
<path d="M153.36 1094.81 C159.41 1100.35 168.06 1103.81 181.9 1101.21 S206.12 1094.81 220.83 1093.43" fill="none" stroke="#6e6e6e" stroke-width="5" stroke-linecap="round" filter="url(#bl2)" opacity="0.8"/>
<path d="M229.48 1096.89 L234.67 1102.42" fill="none" stroke="#8a8a8a" stroke-width="4" stroke-linecap="round" filter="url(#bl2)" opacity="0.45"/>
<path d="M247.65 1091.35 C258.03 1091.35 268.41 1094.81 278.79 1094.81 S299.55 1093.43 309.93 1094.12" fill="none" stroke="#666" stroke-width="5" stroke-linecap="round" filter="url(#bl2)" opacity="0.8"/>
<path d="M328.96 1084.78 L406.82 1081.31 L413.74 1076.12 L414.6 1121.11 L406.82 1119.38 L396.44 1112.46 L334.15 1110.73 L328.1 1103.81 Z" fill="#000" filter="url(#bl4)"/>
<path d="M328.96 1084.78 L406.82 1081.31 L413.74 1076.12 L414.6 1121.11 L406.82 1119.38 L396.44 1112.46 L334.15 1110.73 L328.1 1103.81 Z" fill="#000" filter="url(#bl2)"/>
<path d="M334.15 1087.37 L408.55 1084.78 L409.41 1110.73 L335.88 1108.13 Z" fill="#000" filter="url(#bl1)"/>
<rect x="337.61" y="1160.9" width="60" height="6" rx="3" fill="#777" opacity="0.3" filter="url(#bl4)"/>
<rect x="339.34" y="1147.06" width="56" height="7" rx="3" fill="#888" opacity="0.16" filter="url(#bl4)"/>
</g>
<rect x="133.2" y="826.2" width="292.4" height="498.3" fill="none" stroke="#000" stroke-width="2.2" />
<rect x="133.2" y="1339.7" width="292.4" height="103.8" fill="#dbdbdb" stroke="#1a1a1a" stroke-width="0" />
<g clip-path="url(#clipc2)">
<path d="M152.5 1392.8C160 1396.2 170 1396.8 182 1394.6C196 1392.6 212 1392.2 226 1392" fill="none" stroke="#333" stroke-width="10.5" stroke-linecap="round" filter="url(#bl4)" opacity="0.5"/>
<path d="M152.5 1392.8C160 1396.2 170 1396.8 182 1394.6C196 1392.6 212 1392.2 226 1392" fill="none" stroke="#0a0a0a" stroke-width="6.5" stroke-linecap="round" filter="url(#bl1)"/>
<path d="M249 1391.4C266 1392.6 296 1392.8 317 1392" fill="none" stroke="#333" stroke-width="10.8" stroke-linecap="round" filter="url(#bl4)" opacity="0.5"/>
<path d="M249 1391.4C266 1392.6 296 1392.8 317 1392" fill="none" stroke="#0a0a0a" stroke-width="6.8" stroke-linecap="round" filter="url(#bl1)"/>
<path d="M339 1391.8C356 1392.8 386 1393 406 1393" fill="none" stroke="#333" stroke-width="10.3" stroke-linecap="round" filter="url(#bl4)" opacity="0.5"/>
<path d="M339 1391.8C356 1392.8 386 1393 406 1393" fill="none" stroke="#0a0a0a" stroke-width="6.3" stroke-linecap="round" filter="url(#bl1)"/>
</g>
<rect x="133.2" y="1339.7" width="292.4" height="103.8" fill="none" stroke="#000" stroke-width="2.2" />
<line x1="425.6" y1="1099.6" x2="448.8" y2="1099.6" stroke="#1a1a1a" stroke-width="2" />
<line x1="425.6" y1="1397.8" x2="448.8" y2="1397.8" stroke="#1a1a1a" stroke-width="2" />
</g>
<g id="panel-d">
<text transform="translate(606 773) scale(1.16 1)" font-size="37" font-weight="bold" fill="#000" stroke="#000" stroke-width="1" stroke-linejoin="round">d</text>
<circle cx="760.4" cy="765.5" r="8.6" fill="#d0d0d0" stroke="#1a1a1a" stroke-width="1.3"/>
<polygon points="760.4,796.05 769.4,813.55 751.4,813.55" fill="#c8def8" stroke="#1a1a1a" stroke-width="1.3" stroke-linejoin="miter"/>
<text font-size="25.5" textLength="133.33" lengthAdjust="spacingAndGlyphs" transform="translate(784.5 772) scale(1.05 1)">– NG patch</text>
<text font-size="25.5" textLength="133.33" lengthAdjust="spacingAndGlyphs" transform="translate(784.5 812.6) scale(1.05 1)">+ NG patch</text>
<text font-size="22" text-anchor="middle" textLength="113.33" lengthAdjust="spacingAndGlyphs" transform="translate(843.2 872.9) scale(1.05 1)"><tspan font-style="italic">P</tspan> = 0.0006</text>
<text font-size="34" text-anchor="middle" transform="translate(844.7 907.8) scale(1.05 1)">***</text>
<path d="M802.7 1040.8V906.6H881.6V913.5" fill="none" stroke="#ee4450" stroke-width="1.6" />
<path d="M753.5 920.4V1378.9" fill="none" stroke="#1a1a1a" stroke-width="1.5" />
<path d="M735.6 1377.9H941.1" fill="none" stroke="#1a1a1a" stroke-width="1.5" />
<line x1="735.6" y1="923.1" x2="753.5" y2="923.1" stroke="#1a1a1a" stroke-width="1.5" />
<text font-size="24" text-anchor="end" transform="translate(721.8 932.4) scale(1.08 1)">1<tspan font-size="19.68" dx="4.2">×</tspan><tspan dx="1.2">10</tspan><tspan dy="-12.96" dx="-1.2" font-size="15.6">5</tspan></text>
<line x1="735.6" y1="1014" x2="753.5" y2="1014" stroke="#1a1a1a" stroke-width="1.5" />
<text font-size="24" text-anchor="end" transform="translate(721.8 1023.3) scale(1.08 1)">8<tspan font-size="19.68" dx="4.2">×</tspan><tspan dx="1.2">10</tspan><tspan dy="-12.96" dx="-1.2" font-size="15.6">4</tspan></text>
<line x1="735.6" y1="1104.9" x2="753.5" y2="1104.9" stroke="#1a1a1a" stroke-width="1.5" />
<text font-size="24" text-anchor="end" transform="translate(721.8 1114.2) scale(1.08 1)">6<tspan font-size="19.68" dx="4.2">×</tspan><tspan dx="1.2">10</tspan><tspan dy="-12.96" dx="-1.2" font-size="15.6">4</tspan></text>
<line x1="735.6" y1="1195.8" x2="753.5" y2="1195.8" stroke="#1a1a1a" stroke-width="1.5" />
<text font-size="24" text-anchor="end" transform="translate(721.8 1205.1) scale(1.08 1)">4<tspan font-size="19.68" dx="4.2">×</tspan><tspan dx="1.2">10</tspan><tspan dy="-12.96" dx="-1.2" font-size="15.6">4</tspan></text>
<line x1="735.6" y1="1286.6" x2="753.5" y2="1286.6" stroke="#1a1a1a" stroke-width="1.5" />
<text font-size="24" text-anchor="end" transform="translate(721.8 1295.9) scale(1.08 1)">2<tspan font-size="19.68" dx="4.2">×</tspan><tspan dx="1.2">10</tspan><tspan dy="-12.96" dx="-1.2" font-size="15.6">4</tspan></text>
<text font-size="24" text-anchor="end" transform="translate(721.8 1386.5) scale(1.09 1)">0</text>
<line x1="846.5" y1="1377.9" x2="846.5" y2="1395.4" stroke="#1a1a1a" stroke-width="1.5" />
<rect x="782.8" y="1360.6" width="57.5" height="17.3" fill="#f3f3f3" stroke="#1a1a1a" stroke-width="1.3" />
<rect x="852.7" y="1081.5" width="57.4" height="296.4" fill="#e3eefb" stroke="#1a1a1a" stroke-width="1.3" />
<path d="M867.6 1030.2H895.6M881.6 1030.2V1132.1M867.6 1132.1H895.6" fill="none" stroke="#1a1a1a" stroke-width="1.3" />
<path d="M797.3 1352.4H825.3M811.3 1352.4V1361" fill="none" stroke="#1a1a1a" stroke-width="1.3" />
<polygon points="881.2,927.95 890.2,945.45 872.2,945.45" fill="#c8def8" stroke="#1a1a1a" stroke-width="1.3" stroke-linejoin="miter"/>
<polygon points="881.2,996.85 890.2,1014.35 872.2,1014.35" fill="#c8def8" stroke="#1a1a1a" stroke-width="1.3" stroke-linejoin="miter"/>
<polygon points="881.2,1075.35 890.2,1092.85 872.2,1092.85" fill="#c8def8" stroke="#1a1a1a" stroke-width="1.3" stroke-linejoin="miter"/>
<polygon points="881.2,1156.25 890.2,1173.75 872.2,1173.75" fill="#c8def8" stroke="#1a1a1a" stroke-width="1.3" stroke-linejoin="miter"/>
<polygon points="881.2,1208.85 890.2,1226.35 872.2,1226.35" fill="#c8def8" stroke="#1a1a1a" stroke-width="1.3" stroke-linejoin="miter"/>
<circle cx="811.3" cy="1334.1" r="8.9" fill="#d3d3d3" stroke="#000" stroke-width="1.4"/>
<circle cx="832" cy="1354.1" r="8.9" fill="#d3d3d3" stroke="#000" stroke-width="1.4"/>
<circle cx="811.3" cy="1366.8" r="8.9" fill="#d3d3d3" stroke="#000" stroke-width="1.4"/>
<circle cx="790.7" cy="1373.7" r="8.9" fill="#d3d3d3" stroke="#000" stroke-width="1.4"/>
<circle cx="832" cy="1371" r="8.9" fill="#d3d3d3" stroke="#000" stroke-width="1.4"/>
<text font-size="27" textLength="59.05" lengthAdjust="spacingAndGlyphs" transform="translate(775.9 1064.6) scale(1.05 1)">×16.7</text>
<text font-size="26.5" text-anchor="middle" transform="translate(621 1156.9) rotate(-90) scale(0.9 1)" dominant-baseline="central">RLU</text>
<text font-size="24.2" transform="translate(783.8 1431.4) scale(1.03 1)">HEK<tspan dy="8.47" dx="-0.3" font-size="17.42">hNORM2</tspan></text>
</g>
<g id="panel-e">
<text transform="translate(990 773.5) scale(1.16 1)" font-size="37" font-weight="bold" fill="#000" stroke="#000" stroke-width="1" stroke-linejoin="round">e</text>
<path d="M1086.1 829.69V1375" fill="none" stroke="#1a1a1a" stroke-width="1.5" />
<path d="M1066.97 1374H1734" fill="none" stroke="#1a1a1a" stroke-width="1.5" />
<line x1="1066.97" y1="832.19" x2="1086.1" y2="832.19" stroke="#1a1a1a" stroke-width="1.5" />
<text font-size="24" text-anchor="end" transform="translate(1054.3 840.79) scale(1.09 1)">5</text>
<line x1="1066.97" y1="940.9" x2="1086.1" y2="940.9" stroke="#1a1a1a" stroke-width="1.5" />
<text font-size="24" text-anchor="end" transform="translate(1054.3 949.5) scale(1.09 1)">4</text>
<line x1="1066.97" y1="1049.17" x2="1086.1" y2="1049.17" stroke="#1a1a1a" stroke-width="1.5" />
<text font-size="24" text-anchor="end" transform="translate(1054.3 1057.77) scale(1.09 1)">3</text>
<line x1="1066.97" y1="1157.45" x2="1086.1" y2="1157.45" stroke="#1a1a1a" stroke-width="1.5" />
<text font-size="24" text-anchor="end" transform="translate(1054.3 1166.05) scale(1.09 1)">2</text>
<line x1="1066.97" y1="1265.72" x2="1086.1" y2="1265.72" stroke="#1a1a1a" stroke-width="1.5" />
<text font-size="24" text-anchor="end" transform="translate(1054.3 1274.32) scale(1.09 1)">1</text>
<text font-size="24" text-anchor="end" transform="translate(1054.3 1382.6) scale(1.09 1)">0</text>
<line x1="1163.5" y1="1374" x2="1163.5" y2="1391.83" stroke="#1a1a1a" stroke-width="1.5" />
<text font-size="24" text-anchor="middle" transform="translate(1163.5 1421.8) scale(1.09 1)">0</text>
<line x1="1326.57" y1="1374" x2="1326.57" y2="1391.83" stroke="#1a1a1a" stroke-width="1.5" />
<text font-size="24" text-anchor="middle" transform="translate(1326.57 1421.8) scale(1.09 1)">8</text>
<line x1="1489.63" y1="1374" x2="1489.63" y2="1391.83" stroke="#1a1a1a" stroke-width="1.5" />
<text font-size="24" text-anchor="middle" transform="translate(1489.63 1421.8) scale(1.09 1)">16</text>
<line x1="1653.13" y1="1374" x2="1653.13" y2="1391.83" stroke="#1a1a1a" stroke-width="1.5" />
<text font-size="24" text-anchor="middle" transform="translate(1653.13 1421.8) scale(1.09 1)">24</text>
<text font-size="27" text-anchor="middle" transform="translate(1408.3 1462.7) scale(1.05 1)">Time (h)</text>
<text font-size="27" text-anchor="middle" transform="translate(1005 1108.8) rotate(-90) scale(1.05 1)" dominant-baseline="central">NO in tissue (µmole g<tspan dy="-9" font-size="16">–1</tspan><tspan dy="9">)</tspan></text>
<rect x="1141.76" y="836.97" width="24" height="23.5" fill="#e6e6e6" stroke="#1a1a1a" stroke-width="1.3" />
<rect x="1141.76" y="888.72" width="24" height="23.5" fill="#e3eefb" stroke="#1a1a1a" stroke-width="1.3" />
<rect x="1141.76" y="939.59" width="24" height="23.5" fill="#fdcccc" stroke="#1a1a1a" stroke-width="1.3" />
<text font-size="27" textLength="200.95" lengthAdjust="spacingAndGlyphs" transform="translate(1182.2 858.3) scale(1.05 1)">Negative control</text>
<text font-size="24.2" transform="translate(1182.2 909.2) scale(1.03 1)">HEK<tspan dy="8.47" dx="-0.3" font-size="17.42">hNORM1</tspan></text>
<text font-size="24.2" transform="translate(1182.2 959.2) scale(1.03 1)">HEK<tspan dy="8.47" dx="-0.3" font-size="17.42">hNORM2</tspan></text>
<rect x="1103.49" y="1345.3" width="35.22" height="28.7" fill="#e6e6e6" stroke="#1a1a1a" stroke-width="1.3" />
<rect x="1146.11" y="1342.25" width="35.22" height="31.74" fill="#e3eefb" stroke="#1a1a1a" stroke-width="1.3" />
<rect x="1189.16" y="1337.47" width="35.22" height="36.53" fill="#fdcccc" stroke="#1a1a1a" stroke-width="1.3" />
<rect x="1266.56" y="1277.46" width="35.22" height="96.53" fill="#e6e6e6" stroke="#1a1a1a" stroke-width="1.3" />
<rect x="1309.17" y="1280.51" width="35.22" height="93.49" fill="#e3eefb" stroke="#1a1a1a" stroke-width="1.3" />
<rect x="1352.22" y="1172.23" width="35.22" height="201.77" fill="#fdcccc" stroke="#1a1a1a" stroke-width="1.3" />
<rect x="1430.06" y="1227.89" width="35.22" height="146.11" fill="#e6e6e6" stroke="#1a1a1a" stroke-width="1.3" />
<rect x="1472.67" y="1213.54" width="35.22" height="160.46" fill="#e3eefb" stroke="#1a1a1a" stroke-width="1.3" />
<rect x="1515.29" y="1051.78" width="35.22" height="322.22" fill="#fdcccc" stroke="#1a1a1a" stroke-width="1.3" />
<rect x="1593.12" y="1225.72" width="35.22" height="148.28" fill="#e6e6e6" stroke="#1a1a1a" stroke-width="1.3" />
<rect x="1635.74" y="1228.33" width="35.22" height="145.67" fill="#e3eefb" stroke="#1a1a1a" stroke-width="1.3" />
<rect x="1678.79" y="1021.34" width="35.22" height="352.65" fill="#fdcccc" stroke="#1a1a1a" stroke-width="1.3" />
<path d="M1112.19 1337.91H1129.59M1120.89 1337.91V1350.95M1112.19 1350.95H1129.59" fill="none" stroke="#000" stroke-width="1.9" />
<path d="M1154.8 1335.73H1172.2M1163.5 1335.73V1348.78M1154.8 1348.78H1172.2" fill="none" stroke="#000" stroke-width="1.9" />
<path d="M1197.85 1328.34H1215.25M1206.55 1328.34V1346.17M1197.85 1346.17H1215.25" fill="none" stroke="#000" stroke-width="1.9" />
<path d="M1275.69 1263.11H1293.09M1284.39 1263.11V1290.94M1275.69 1290.94H1293.09" fill="none" stroke="#000" stroke-width="1.9" />
<path d="M1317.87 1265.29H1335.27M1326.57 1265.29V1294.86M1317.87 1294.86H1335.27" fill="none" stroke="#000" stroke-width="1.9" />
<path d="M1360.92 1149.62H1378.32M1369.62 1149.62V1194.41M1360.92 1194.41H1378.32" fill="none" stroke="#000" stroke-width="1.9" />
<path d="M1438.75 1206.58H1456.15M1447.45 1206.58V1249.63M1438.75 1249.63H1456.15" fill="none" stroke="#000" stroke-width="1.9" />
<path d="M1481.37 1196.15H1498.77M1490.07 1196.15V1231.37M1481.37 1231.37H1498.77" fill="none" stroke="#000" stroke-width="1.9" />
<path d="M1523.98 1016.12H1541.38M1532.68 1016.12V1086.57M1523.98 1086.57H1541.38" fill="none" stroke="#000" stroke-width="1.9" />
<path d="M1602.25 1193.1H1619.65M1610.95 1193.1V1258.33M1602.25 1258.33H1619.65" fill="none" stroke="#000" stroke-width="1.9" />
<path d="M1644.87 1205.71H1662.27M1653.57 1205.71V1250.07M1644.87 1250.07H1662.27" fill="none" stroke="#000" stroke-width="1.9" />
<path d="M1687.48 975.25H1704.88M1696.18 975.25V1067M1687.48 1067H1704.88" fill="none" stroke="#000" stroke-width="1.9" />
<circle cx="1109.58" cy="1337.91" r="6.6" fill="#cdcdcd" stroke="#000" stroke-width="1.2"/>
<circle cx="1132.19" cy="1330.08" r="6.6" fill="#cdcdcd" stroke="#000" stroke-width="1.2"/>
<circle cx="1132.19" cy="1347.47" r="6.6" fill="#cdcdcd" stroke="#000" stroke-width="1.2"/>
<circle cx="1120.45" cy="1360.52" r="6.6" fill="#cdcdcd" stroke="#000" stroke-width="1.2"/>
<circle cx="1152.63" cy="1330.08" r="6.6" fill="#c5dcf8" stroke="#000" stroke-width="1.2"/>
<circle cx="1174.37" cy="1337.47" r="6.6" fill="#c5dcf8" stroke="#000" stroke-width="1.2"/>
<circle cx="1163.5" cy="1341.82" r="6.6" fill="#c5dcf8" stroke="#000" stroke-width="1.2"/>
<circle cx="1163.5" cy="1361.39" r="6.6" fill="#c5dcf8" stroke="#000" stroke-width="1.2"/>
<circle cx="1195.25" cy="1330.95" r="6.6" fill="#ff9a9a" stroke="#000" stroke-width="1.2"/>
<circle cx="1217.42" cy="1319.64" r="6.6" fill="#ff9a9a" stroke="#000" stroke-width="1.2"/>
<circle cx="1217.42" cy="1337.04" r="6.6" fill="#ff9a9a" stroke="#000" stroke-width="1.2"/>
<circle cx="1206.12" cy="1361.39" r="6.6" fill="#ff9a9a" stroke="#000" stroke-width="1.2"/>
<circle cx="1284.39" cy="1239.63" r="6.6" fill="#cdcdcd" stroke="#000" stroke-width="1.2"/>
<circle cx="1273.08" cy="1275.29" r="6.6" fill="#cdcdcd" stroke="#000" stroke-width="1.2"/>
<circle cx="1295.26" cy="1284.42" r="6.6" fill="#cdcdcd" stroke="#000" stroke-width="1.2"/>
<circle cx="1284.39" cy="1307.03" r="6.6" fill="#cdcdcd" stroke="#000" stroke-width="1.2"/>
<circle cx="1327" cy="1240.94" r="6.6" fill="#c5dcf8" stroke="#000" stroke-width="1.2"/>
<circle cx="1315.7" cy="1280.07" r="6.6" fill="#c5dcf8" stroke="#000" stroke-width="1.2"/>
<circle cx="1337.87" cy="1285.29" r="6.6" fill="#c5dcf8" stroke="#000" stroke-width="1.2"/>
<circle cx="1326.57" cy="1313.12" r="6.6" fill="#c5dcf8" stroke="#000" stroke-width="1.2"/>
<circle cx="1369.62" cy="1112.22" r="6.6" fill="#ff9a9a" stroke="#000" stroke-width="1.2"/>
<circle cx="1369.62" cy="1166.14" r="6.6" fill="#ff9a9a" stroke="#000" stroke-width="1.2"/>
<circle cx="1369.62" cy="1192.67" r="6.6" fill="#ff9a9a" stroke="#000" stroke-width="1.2"/>
<circle cx="1369.62" cy="1216.15" r="6.6" fill="#ff9a9a" stroke="#000" stroke-width="1.2"/>
<circle cx="1447.45" cy="1163.1" r="6.6" fill="#cdcdcd" stroke="#000" stroke-width="1.2"/>
<circle cx="1447.45" cy="1245.72" r="6.6" fill="#cdcdcd" stroke="#000" stroke-width="1.2"/>
<circle cx="1436.15" cy="1251.37" r="6.6" fill="#cdcdcd" stroke="#000" stroke-width="1.2"/>
<circle cx="1458.76" cy="1250.5" r="6.6" fill="#cdcdcd" stroke="#000" stroke-width="1.2"/>
<circle cx="1490.07" cy="1170.93" r="6.6" fill="#c5dcf8" stroke="#000" stroke-width="1.2"/>
<circle cx="1490.07" cy="1196.15" r="6.6" fill="#c5dcf8" stroke="#000" stroke-width="1.2"/>
<circle cx="1478.76" cy="1243.98" r="6.6" fill="#c5dcf8" stroke="#000" stroke-width="1.2"/>
<circle cx="1501.37" cy="1243.98" r="6.6" fill="#c5dcf8" stroke="#000" stroke-width="1.2"/>
<circle cx="1532.68" cy="979.16" r="6.6" fill="#ff9a9a" stroke="#000" stroke-width="1.2"/>
<circle cx="1532.68" cy="1022.65" r="6.6" fill="#ff9a9a" stroke="#000" stroke-width="1.2"/>
<circle cx="1532.68" cy="1060.48" r="6.6" fill="#ff9a9a" stroke="#000" stroke-width="1.2"/>
<circle cx="1532.68" cy="1145.27" r="6.6" fill="#ff9a9a" stroke="#000" stroke-width="1.2"/>
<circle cx="1610.95" cy="1135.27" r="6.6" fill="#cdcdcd" stroke="#000" stroke-width="1.2"/>
<circle cx="1610.95" cy="1226.59" r="6.6" fill="#cdcdcd" stroke="#000" stroke-width="1.2"/>
<circle cx="1610.95" cy="1255.29" r="6.6" fill="#cdcdcd" stroke="#000" stroke-width="1.2"/>
<circle cx="1610.95" cy="1285.29" r="6.6" fill="#cdcdcd" stroke="#000" stroke-width="1.2"/>
<circle cx="1653.57" cy="1167.45" r="6.6" fill="#c5dcf8" stroke="#000" stroke-width="1.2"/>
<circle cx="1653.57" cy="1227.89" r="6.6" fill="#c5dcf8" stroke="#000" stroke-width="1.2"/>
<circle cx="1653.57" cy="1241.37" r="6.6" fill="#c5dcf8" stroke="#000" stroke-width="1.2"/>
<circle cx="1653.57" cy="1274.85" r="6.6" fill="#c5dcf8" stroke="#000" stroke-width="1.2"/>
<circle cx="1696.18" cy="918.29" r="6.6" fill="#ff9a9a" stroke="#000" stroke-width="1.2"/>
<circle cx="1696.18" cy="980.47" r="6.6" fill="#ff9a9a" stroke="#000" stroke-width="1.2"/>
<circle cx="1696.18" cy="1057.43" r="6.6" fill="#ff9a9a" stroke="#000" stroke-width="1.2"/>
<circle cx="1696.18" cy="1127.88" r="6.6" fill="#ff9a9a" stroke="#000" stroke-width="1.2"/>
<path d="M1326.57 1189.63V1090.05H1363.09V1095.27" fill="none" stroke="#ee4450" stroke-width="1.6" />
<text font-size="22" text-anchor="middle" textLength="80.95" lengthAdjust="spacingAndGlyphs" transform="translate(1337.87 1059.17) scale(1.05 1)"><tspan font-style="italic">P</tspan> = 0.02</text>
<text font-size="34" text-anchor="middle" transform="translate(1344.4 1096.05) scale(1.05 1)">*</text>
<path d="M1489.63 1052.65V952.64H1526.16V957.86" fill="none" stroke="#ee4450" stroke-width="1.6" />
<text font-size="22" text-anchor="middle" textLength="93.81" lengthAdjust="spacingAndGlyphs" transform="translate(1501.81 924.37) scale(1.05 1)"><tspan font-style="italic">P</tspan> = 0.026</text>
<text font-size="34" text-anchor="middle" transform="translate(1509.2 960.38) scale(1.05 1)">*</text>
<path d="M1656.18 990.9V890.89H1697.05V896.11" fill="none" stroke="#ee4450" stroke-width="1.6" />
<text font-size="22" text-anchor="middle" textLength="93.81" lengthAdjust="spacingAndGlyphs" transform="translate(1671.39 859.15) scale(1.05 1)"><tspan font-style="italic">P</tspan> = 0.028</text>
<text font-size="34" text-anchor="middle" transform="translate(1677.92 898.63) scale(1.05 1)">*</text>
</g>
<g id="panel-f">
<text transform="translate(-0.5 1538.4) scale(1.16 1)" font-size="37" font-weight="bold" fill="#000" stroke="#000" stroke-width="1" stroke-linejoin="round">f</text>
<path d="M214.53 1611.14V2050.63" fill="none" stroke="#1a1a1a" stroke-width="1.5" />
<path d="M196.08 2049.63H740.48" fill="none" stroke="#1a1a1a" stroke-width="1.5" />
<line x1="196.08" y1="1613.64" x2="214.53" y2="1613.64" stroke="#1a1a1a" stroke-width="1.5" />
<text font-size="24" text-anchor="end" textLength="81.48" lengthAdjust="spacingAndGlyphs" transform="translate(182.2 1622.94) scale(1.08 1)">1.6<tspan font-size="19.68" dx="4.2">×</tspan><tspan dx="1.2">10</tspan><tspan dy="-12.96" dx="-1.2" font-size="15.6">4</tspan></text>
<line x1="196.08" y1="1722.99" x2="214.53" y2="1722.99" stroke="#1a1a1a" stroke-width="1.5" />
<text font-size="24" text-anchor="end" textLength="81.48" lengthAdjust="spacingAndGlyphs" transform="translate(182.2 1732.29) scale(1.08 1)">1.2<tspan font-size="19.68" dx="4.2">×</tspan><tspan dx="1.2">10</tspan><tspan dy="-12.96" dx="-1.2" font-size="15.6">4</tspan></text>
<line x1="196.08" y1="1831.87" x2="214.53" y2="1831.87" stroke="#1a1a1a" stroke-width="1.5" />
<text font-size="24" text-anchor="end" transform="translate(182.2 1841.17) scale(1.08 1)">8<tspan font-size="19.68" dx="4.2">×</tspan><tspan dx="1.2">10</tspan><tspan dy="-12.96" dx="-1.2" font-size="15.6">3</tspan></text>
<line x1="196.08" y1="1940.75" x2="214.53" y2="1940.75" stroke="#1a1a1a" stroke-width="1.5" />
<text font-size="24" text-anchor="end" transform="translate(182.2 1950.05) scale(1.08 1)">4<tspan font-size="19.68" dx="4.2">×</tspan><tspan dx="1.2">10</tspan><tspan dy="-12.96" dx="-1.2" font-size="15.6">3</tspan></text>
<text font-size="24" text-anchor="end" transform="translate(188 2058.23) scale(1.09 1)">0</text>
<line x1="268.51" y1="2049.63" x2="268.51" y2="2067.62" stroke="#1a1a1a" stroke-width="1.5" />
<line x1="376.01" y1="2049.63" x2="376.01" y2="2067.62" stroke="#1a1a1a" stroke-width="1.5" />
<line x1="483.51" y1="2049.63" x2="483.51" y2="2067.62" stroke="#1a1a1a" stroke-width="1.5" />
<line x1="591.46" y1="2049.63" x2="591.46" y2="2067.62" stroke="#1a1a1a" stroke-width="1.5" />
<line x1="698.96" y1="2049.63" x2="698.96" y2="2067.62" stroke="#1a1a1a" stroke-width="1.5" />
<text font-size="26.5" text-anchor="middle" transform="translate(62.3 1829.1) rotate(-90) scale(0.9 1)" dominant-baseline="central">RLU</text>
<circle cx="266.21" cy="1621.49" r="8.5" fill="#d0d0d0" stroke="#1a1a1a" stroke-width="1.3"/>
<polygon points="266.21,1655.82 276.71,1674.82 255.71,1674.82" fill="#c8ddf7" stroke="#1a1a1a" stroke-width="1.3" stroke-linejoin="miter"/>
<polygon points="266.21,1717.72 276.71,1698.72 255.71,1698.72" fill="#fc8082" stroke="#1a1a1a" stroke-width="1.3"/>
<polygon points="255.21,1752.05 260.71,1743.05 271.71,1743.05 277.21,1752.05 271.71,1761.05 260.71,1761.05" fill="#45e4a5" stroke="#1a1a1a" stroke-width="1.3"/>
<polygon points="266.21,1784.92 276.71,1795.42 266.21,1805.92 255.71,1795.42" fill="#f5a6e6" stroke="#1a1a1a" stroke-width="1.3"/>
<text font-size="26.5" textLength="36.67" lengthAdjust="spacingAndGlyphs" transform="translate(293 1629.79) scale(1.05 1)">WT</text>
<text font-size="26.5" textLength="161.9" lengthAdjust="spacingAndGlyphs" transform="translate(293 1673.62) scale(1.05 1)">IP – NG patch</text>
<text font-size="26.5" textLength="161.43" lengthAdjust="spacingAndGlyphs" transform="translate(293 1716.99) scale(1.05 1)">IP + NG patch</text>
<text font-size="26.5" textLength="177.14" lengthAdjust="spacingAndGlyphs" transform="translate(293 1760.36) scale(1.05 1)">SQ – NG patch</text>
<text font-size="26.5" textLength="177.14" lengthAdjust="spacingAndGlyphs" transform="translate(293 1804.19) scale(1.05 1)">SQ + NG patch</text>
<text font-size="22" text-anchor="middle" textLength="112.38" lengthAdjust="spacingAndGlyphs" transform="translate(645.9 1539.8) scale(1.05 1)"><tspan font-style="italic">P</tspan> = 0.0005</text>
<text font-size="34" text-anchor="middle" transform="translate(650.5 1584.4) scale(1.05 1)">***</text>
<path d="M588.24 1753.9V1578.58H697.58V1587.81" fill="none" stroke="#ee4450" stroke-width="1.6" />
<text font-size="25" text-anchor="middle" transform="translate(439.2 1970.7) scale(1.05 1)">NS</text>
<line x1="372.78" y1="1984.58" x2="481.2" y2="1984.58" stroke="#ee4450" stroke-width="1.7" />
<rect x="338.18" y="2032.56" width="76.12" height="17.07" fill="#e4eefb" stroke="#1a1a1a" stroke-width="1.3" />
<rect x="445.67" y="2022.87" width="76.12" height="26.76" fill="#fdc5c5" stroke="#1a1a1a" stroke-width="1.3" />
<rect x="553.63" y="2034.41" width="76.12" height="15.22" fill="#a5f2d3" stroke="#1a1a1a" stroke-width="1.3" />
<rect x="553.63" y="2034.41" width="6" height="15.22" fill="#000" stroke="#1a1a1a" stroke-width="0" />
<rect x="623.76" y="2034.41" width="6" height="15.22" fill="#000" stroke="#1a1a1a" stroke-width="0" />
<rect x="661.13" y="1762.66" width="76.12" height="286.97" fill="#f6e2fa" stroke="#1a1a1a" stroke-width="1.3" />
<path d="M679.56 1713.3H718.36M698.96 1713.3V1811.57M679.56 1811.57H718.36" fill="none" stroke="#1a1a1a" stroke-width="1.3" />
<path d="M464.13 2019.18H476.13M470.13 2019.18V2025.18M464.13 2025.18H476.13" fill="none" stroke="#1a1a1a" stroke-width="1.3" />
<circle cx="238.52" cy="2048.71" r="8.3" fill="#d0d0d0" stroke="#1a1a1a" stroke-width="1.3"/>
<circle cx="253.75" cy="2044.56" r="8.3" fill="#d0d0d0" stroke="#1a1a1a" stroke-width="1.3"/>
<circle cx="268.51" cy="2047.79" r="8.3" fill="#d0d0d0" stroke="#1a1a1a" stroke-width="1.3"/>
<circle cx="283.28" cy="2045.48" r="8.3" fill="#d0d0d0" stroke="#1a1a1a" stroke-width="1.3"/>
<circle cx="298.5" cy="2048.71" r="8.3" fill="#d0d0d0" stroke="#1a1a1a" stroke-width="1.3"/>
<polygon points="348.33,2024.87 358.83,2044.87 337.83,2044.87" fill="#c8ddf7" stroke="#1a1a1a" stroke-width="1.3" stroke-linejoin="miter"/>
<polygon points="363.09,2016.56 373.59,2036.56 352.59,2036.56" fill="#c8ddf7" stroke="#1a1a1a" stroke-width="1.3" stroke-linejoin="miter"/>
<polygon points="376.01,2018.41 386.51,2038.41 365.51,2038.41" fill="#c8ddf7" stroke="#1a1a1a" stroke-width="1.3" stroke-linejoin="miter"/>
<polygon points="390.77,2016.56 401.27,2036.56 380.27,2036.56" fill="#c8ddf7" stroke="#1a1a1a" stroke-width="1.3" stroke-linejoin="miter"/>
<polygon points="404.61,2033.63 415.11,2053.63 394.11,2053.63" fill="#c8ddf7" stroke="#1a1a1a" stroke-width="1.3" stroke-linejoin="miter"/>
<polygon points="456.75,2034.26 467.25,2014.26 446.25,2014.26" fill="#fc8082" stroke="#1a1a1a" stroke-width="1.3"/>
<polygon points="470.13,2021.34 480.63,2001.34 459.63,2001.34" fill="#fc8082" stroke="#1a1a1a" stroke-width="1.3"/>
<polygon points="483.51,2034.26 494.01,2014.26 473.01,2014.26" fill="#fc8082" stroke="#1a1a1a" stroke-width="1.3"/>
<polygon points="497.35,2032.87 507.85,2012.87 486.85,2012.87" fill="#fc8082" stroke="#1a1a1a" stroke-width="1.3"/>
<polygon points="511.19,2042.1 521.69,2022.1 500.69,2022.1" fill="#fc8082" stroke="#1a1a1a" stroke-width="1.3"/>
<polygon points="552.28,2033.48 558.03,2023.98 569.53,2023.98 575.28,2033.48 569.53,2042.98 558.03,2042.98" fill="#45e4a5" stroke="#1a1a1a" stroke-width="1.3"/>
<polygon points="566.12,2025.18 571.87,2015.68 583.37,2015.68 589.12,2025.18 583.37,2034.68 571.87,2034.68" fill="#45e4a5" stroke="#1a1a1a" stroke-width="1.3"/>
<polygon points="579.96,2030.72 585.71,2021.22 597.21,2021.22 602.96,2030.72 597.21,2040.22 585.71,2040.22" fill="#45e4a5" stroke="#1a1a1a" stroke-width="1.3"/>
<polygon points="593.81,2028.41 599.56,2018.91 611.06,2018.91 616.81,2028.41 611.06,2037.91 599.56,2037.91" fill="#45e4a5" stroke="#1a1a1a" stroke-width="1.3"/>
<polygon points="607.65,2037.64 613.4,2028.14 624.9,2028.14 630.65,2037.64 624.9,2047.14 613.4,2047.14" fill="#45e4a5" stroke="#1a1a1a" stroke-width="1.3"/>
<polygon points="698.96,1608.68 709.46,1619.18 698.96,1629.68 688.46,1619.18" fill="#f5a6e6" stroke="#1a1a1a" stroke-width="1.3"/>
<polygon points="698.96,1664.97 709.46,1675.47 698.96,1685.97 688.46,1675.47" fill="#f5a6e6" stroke="#1a1a1a" stroke-width="1.3"/>
<polygon points="698.96,1790.92 709.46,1801.42 698.96,1811.92 688.46,1801.42" fill="#f5a6e6" stroke="#1a1a1a" stroke-width="1.3"/>
<polygon points="671.28,1852.28 681.78,1862.78 671.28,1873.28 660.78,1862.78" fill="#f5a6e6" stroke="#1a1a1a" stroke-width="1.3"/>
<polygon points="726.18,1843.98 736.68,1854.48 726.18,1864.98 715.68,1854.48" fill="#f5a6e6" stroke="#1a1a1a" stroke-width="1.3"/>
<line x1="335.41" y1="2096.69" x2="521.8" y2="2096.69" stroke="#1a1a1a" stroke-width="1.3" />
<line x1="549.02" y1="2096.69" x2="736.79" y2="2096.69" stroke="#1a1a1a" stroke-width="1.3" />
<text font-size="27" textLength="177.52" lengthAdjust="spacingAndGlyphs" transform="translate(335.4 2130) scale(1.05 1)">Intraperitoneal</text>
<text font-size="27" textLength="173.14" lengthAdjust="spacingAndGlyphs" transform="translate(552.7 2130) scale(1.05 1)">Subcutaneous</text>
</g>
<g id="panel-g">
<text transform="translate(946 1539.5) scale(1.16 1)" font-size="37" font-weight="bold" fill="#000" stroke="#000" stroke-width="1" stroke-linejoin="round">g</text>
<path d="M1110.19 1626.98V2050.38" fill="none" stroke="#1a1a1a" stroke-width="1.5" />
<path d="M1091.43 2049.38H1734" fill="none" stroke="#1a1a1a" stroke-width="1.5" />
<line x1="1091.43" y1="1629.48" x2="1110.19" y2="1629.48" stroke="#1a1a1a" stroke-width="1.5" />
<text font-size="24" text-anchor="end" textLength="80.09" lengthAdjust="spacingAndGlyphs" transform="translate(1078.9 1638.78) scale(1.08 1)">1.8<tspan font-size="19.68" dx="4.2">×</tspan><tspan dx="1.2">10</tspan><tspan dy="-12.96" dx="-1.2" font-size="15.6">5</tspan></text>
<line x1="1091.43" y1="1699.71" x2="1110.19" y2="1699.71" stroke="#1a1a1a" stroke-width="1.5" />
<text font-size="24" text-anchor="end" textLength="80.09" lengthAdjust="spacingAndGlyphs" transform="translate(1078.9 1709.01) scale(1.08 1)">1.5<tspan font-size="19.68" dx="4.2">×</tspan><tspan dx="1.2">10</tspan><tspan dy="-12.96" dx="-1.2" font-size="15.6">5</tspan></text>
<line x1="1091.43" y1="1769.45" x2="1110.19" y2="1769.45" stroke="#1a1a1a" stroke-width="1.5" />
<text font-size="24" text-anchor="end" textLength="80.09" lengthAdjust="spacingAndGlyphs" transform="translate(1078.9 1778.75) scale(1.08 1)">1.2<tspan font-size="19.68" dx="4.2">×</tspan><tspan dx="1.2">10</tspan><tspan dy="-12.96" dx="-1.2" font-size="15.6">5</tspan></text>
<line x1="1091.43" y1="1839.67" x2="1110.19" y2="1839.67" stroke="#1a1a1a" stroke-width="1.5" />
<text font-size="24" text-anchor="end" transform="translate(1078.9 1848.97) scale(1.08 1)">9<tspan font-size="19.68" dx="4.2">×</tspan><tspan dx="1.2">10</tspan><tspan dy="-12.96" dx="-1.2" font-size="15.6">4</tspan></text>
<line x1="1091.43" y1="1909.41" x2="1110.19" y2="1909.41" stroke="#1a1a1a" stroke-width="1.5" />
<text font-size="24" text-anchor="end" transform="translate(1078.9 1918.71) scale(1.08 1)">6<tspan font-size="19.68" dx="4.2">×</tspan><tspan dx="1.2">10</tspan><tspan dy="-12.96" dx="-1.2" font-size="15.6">4</tspan></text>
<line x1="1091.43" y1="1979.63" x2="1110.19" y2="1979.63" stroke="#1a1a1a" stroke-width="1.5" />
<text font-size="24" text-anchor="end" transform="translate(1078.9 1988.93) scale(1.08 1)">3<tspan font-size="19.68" dx="4.2">×</tspan><tspan dx="1.2">10</tspan><tspan dy="-12.96" dx="-1.2" font-size="15.6">4</tspan></text>
<text font-size="24" text-anchor="end" transform="translate(1078.9 2057.98) scale(1.09 1)">0</text>
<line x1="1144.34" y1="2049.38" x2="1144.34" y2="2068.13" stroke="#1a1a1a" stroke-width="1.5" />
<text font-size="24" text-anchor="middle" transform="translate(1144.34 2098.6) scale(1.09 1)">1</text>
<text font-size="24" text-anchor="middle" transform="translate(1144.34 2142.8) scale(1.09 1)">+</text>
<line x1="1213.12" y1="2049.38" x2="1213.12" y2="2068.13" stroke="#1a1a1a" stroke-width="1.5" />
<text font-size="24" text-anchor="middle" transform="translate(1213.12 2098.6) scale(1.09 1)">2</text>
<text font-size="24" text-anchor="middle" transform="translate(1213.12 2142.8) scale(1.09 1)">–</text>
<line x1="1281.9" y1="2049.38" x2="1281.9" y2="2068.13" stroke="#1a1a1a" stroke-width="1.5" />
<text font-size="24" text-anchor="middle" transform="translate(1281.9 2098.6) scale(1.09 1)">3</text>
<text font-size="24" text-anchor="middle" transform="translate(1281.9 2142.8) scale(1.09 1)">+</text>
<line x1="1350.68" y1="2049.38" x2="1350.68" y2="2068.13" stroke="#1a1a1a" stroke-width="1.5" />
<text font-size="24" text-anchor="middle" transform="translate(1350.68 2098.6) scale(1.09 1)">4</text>
<text font-size="24" text-anchor="middle" transform="translate(1350.68 2142.8) scale(1.09 1)">–</text>
<line x1="1419.94" y1="2049.38" x2="1419.94" y2="2068.13" stroke="#1a1a1a" stroke-width="1.5" />
<text font-size="24" text-anchor="middle" transform="translate(1419.94 2098.6) scale(1.09 1)">5</text>
<text font-size="24" text-anchor="middle" transform="translate(1419.94 2142.8) scale(1.09 1)">+</text>
<line x1="1488.72" y1="2049.38" x2="1488.72" y2="2068.13" stroke="#1a1a1a" stroke-width="1.5" />
<text font-size="24" text-anchor="middle" transform="translate(1488.72 2098.6) scale(1.09 1)">6</text>
<text font-size="24" text-anchor="middle" transform="translate(1488.72 2142.8) scale(1.09 1)">–</text>
<line x1="1557.5" y1="2049.38" x2="1557.5" y2="2068.13" stroke="#1a1a1a" stroke-width="1.5" />
<text font-size="24" text-anchor="middle" transform="translate(1557.5 2098.6) scale(1.09 1)">7</text>
<text font-size="24" text-anchor="middle" transform="translate(1557.5 2142.8) scale(1.09 1)">–</text>
<line x1="1626.28" y1="2049.38" x2="1626.28" y2="2068.13" stroke="#1a1a1a" stroke-width="1.5" />
<text font-size="24" text-anchor="middle" transform="translate(1626.28 2098.6) scale(1.09 1)">8</text>
<text font-size="24" text-anchor="middle" transform="translate(1626.28 2142.8) scale(1.09 1)">–</text>
<line x1="1695.54" y1="2049.38" x2="1695.54" y2="2068.13" stroke="#1a1a1a" stroke-width="1.5" />
<text font-size="24" text-anchor="middle" transform="translate(1695.54 2098.6) scale(1.09 1)">9</text>
<text font-size="24" text-anchor="middle" transform="translate(1695.54 2142.8) scale(1.09 1)">–</text>
<text font-size="27" text-anchor="end" textLength="138.1" lengthAdjust="spacingAndGlyphs" transform="translate(1078.9 2098.8) scale(1.05 1)">Time (days)</text>
<text font-size="27" text-anchor="end" transform="translate(1078.9 2143.2) scale(1.05 1)">NG patch</text>
<text font-size="26.5" text-anchor="middle" transform="translate(961.1 1839.7) rotate(-90) scale(0.9 1)" dominant-baseline="central">RLU</text>
<path d="M1131.34 2006.09H1157.34M1144.34 2006.09V2035.91M1131.34 2035.91H1157.34" fill="none" stroke="#1a1a1a" stroke-width="1.3" />
<path d="M1200.12 1716.54H1226.12M1213.12 1716.54V1784.36M1200.12 1784.36H1226.12" fill="none" stroke="#1a1a1a" stroke-width="1.3" />
<path d="M1268.9 1944.52H1294.9M1281.9 1944.52V1973.86M1268.9 1973.86H1294.9" fill="none" stroke="#1a1a1a" stroke-width="1.3" />
<path d="M1337.68 1747.8H1363.68M1350.68 1747.8V1826.68M1337.68 1826.68H1363.68" fill="none" stroke="#1a1a1a" stroke-width="1.3" />
<path d="M1406.94 1922.88H1432.94M1419.94 1922.88V1965.21M1406.94 1965.21H1432.94" fill="none" stroke="#1a1a1a" stroke-width="1.3" />
<path d="M1475.72 1651.13H1501.72M1488.72 1651.13V1783.4M1475.72 1783.4H1501.72" fill="none" stroke="#1a1a1a" stroke-width="1.3" />
<path d="M1544.5 1855.54H1570.5M1557.5 1855.54V1919.51M1544.5 1919.51H1570.5" fill="none" stroke="#1a1a1a" stroke-width="1.3" />
<path d="M1613.28 1943.56H1639.28M1626.28 1943.56V1970.02M1613.28 1970.02H1639.28" fill="none" stroke="#1a1a1a" stroke-width="1.3" />
<path d="M1682.54 1987.33H1708.54M1695.54 1987.33V2023.88M1682.54 2023.88H1708.54" fill="none" stroke="#1a1a1a" stroke-width="1.3" />
<path d="M1144.34 2021L1213.12 1750.21L1281.9 1958.95L1350.68 1787.24L1419.94 1944.04L1488.72 1717.02L1557.5 1887.29L1626.28 1956.55L1695.54 2005.13" fill="none" stroke="#000" stroke-width="1.6" />
<circle cx="1144.34" cy="2021" r="12.8" fill="#f43f47" stroke="#1a1a1a" stroke-width="1.3"/>
<circle cx="1213.12" cy="1750.21" r="12.8" fill="#f43f47" stroke="#1a1a1a" stroke-width="1.3"/>
<circle cx="1281.9" cy="1958.95" r="12.8" fill="#f43f47" stroke="#1a1a1a" stroke-width="1.3"/>
<circle cx="1350.68" cy="1787.24" r="12.8" fill="#f43f47" stroke="#1a1a1a" stroke-width="1.3"/>
<circle cx="1419.94" cy="1944.04" r="12.8" fill="#f43f47" stroke="#1a1a1a" stroke-width="1.3"/>
<circle cx="1488.72" cy="1717.02" r="12.8" fill="#f43f47" stroke="#1a1a1a" stroke-width="1.3"/>
<circle cx="1557.5" cy="1887.29" r="12.8" fill="#f43f47" stroke="#1a1a1a" stroke-width="1.3"/>
<circle cx="1626.28" cy="1956.55" r="12.8" fill="#f43f47" stroke="#1a1a1a" stroke-width="1.3"/>
<circle cx="1695.54" cy="2005.13" r="12.8" fill="#f43f47" stroke="#1a1a1a" stroke-width="1.3"/>
</g>
</svg>
</body>
</html>
